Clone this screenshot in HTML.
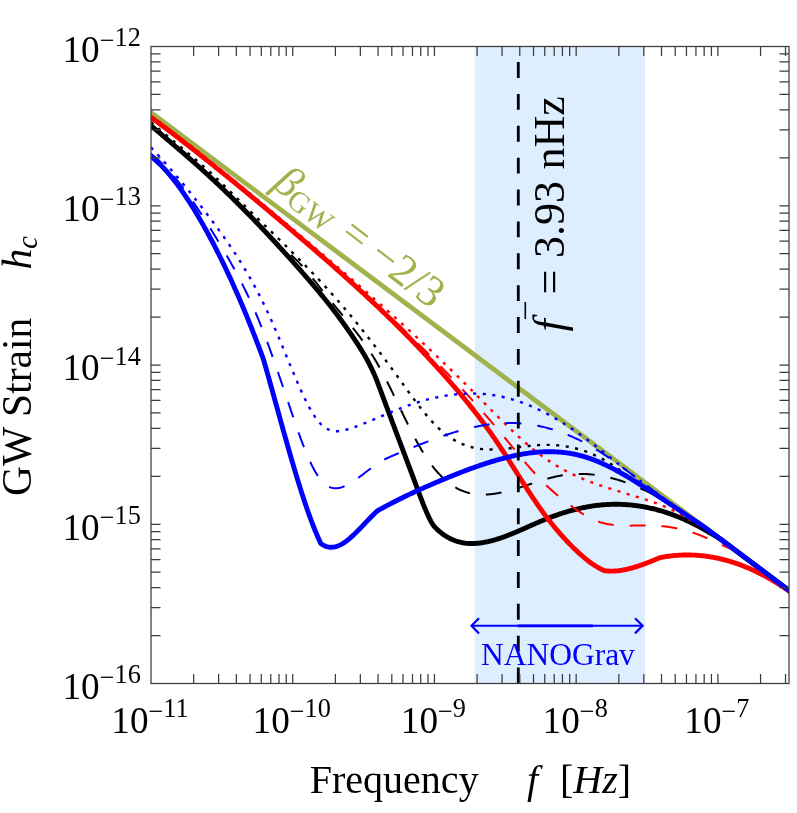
<!DOCTYPE html>
<html><head><meta charset="utf-8"><title>GW strain</title>
<style>html,body{margin:0;padding:0;background:#fff;width:797px;height:813px;overflow:hidden}</style></head>
<body>
<svg width="797" height="813" viewBox="0 0 797 813" style="display:block;position:absolute;left:0;top:0">
<rect width="797" height="813" fill="#fff"/>
<defs><clipPath id="cp"><rect x="151.0" y="46.5" width="638.0" height="637.0"/></clipPath></defs>
<rect x="474.7" y="46.5" width="170.50000000000006" height="637.0" fill="#ddeeff"/>
<g clip-path="url(#cp)" fill="none" stroke-linejoin="round">
<path d="M148.0,110.22 L792.0,592.65" stroke="#a0b24b" stroke-width="4.8"/>
<path d="M151.00,125.60 L152.00,126.45 L153.00,127.30 L154.00,128.15 L155.00,129.00 L156.00,129.84 L157.00,130.69 L158.00,131.54 L159.00,132.39 L160.00,133.23 L161.00,134.08 L162.00,134.93 L163.00,135.78 L164.00,136.63 L165.00,137.47 L166.00,138.32 L167.00,139.17 L168.00,140.02 L169.00,140.87 L170.00,141.72 L171.00,142.57 L172.00,143.43 L173.00,144.28 L174.00,145.13 L175.00,145.99 L176.00,146.84 L177.00,147.70 L178.00,148.56 L179.00,149.41 L180.00,150.27 L181.00,151.13 L182.00,152.00 L183.00,152.86 L184.00,153.72 L185.00,154.59 L186.00,155.46 L187.00,156.33 L188.00,157.20 L189.00,158.07 L190.00,158.94 L191.00,159.82 L192.00,160.70 L193.00,161.58 L194.00,162.46 L195.00,163.34 L196.00,164.23 L197.00,165.11 L198.00,166.00 L199.00,166.89 L200.00,167.79 L201.00,168.68 L202.00,169.58 L203.00,170.48 L204.00,171.39 L205.00,172.29 L206.00,173.20 L207.00,174.11 L208.00,175.03 L209.00,175.94 L210.00,176.86 L211.00,177.78 L212.00,178.71 L213.00,179.64 L214.00,180.57 L215.00,181.50 L216.00,182.44 L217.00,183.37 L218.00,184.32 L219.00,185.26 L220.00,186.21 L221.00,187.15 L222.00,188.11 L223.00,189.06 L224.00,190.02 L225.00,190.98 L226.00,191.94 L227.00,192.90 L228.00,193.87 L229.00,194.84 L230.00,195.81 L231.00,196.79 L232.00,197.77 L233.00,198.75 L234.00,199.73 L235.00,200.72 L236.00,201.70 L237.00,202.69 L238.00,203.69 L239.00,204.68 L240.00,205.68 L241.00,206.68 L242.00,207.68 L243.00,208.69 L244.00,209.70 L245.00,210.71 L246.00,211.72 L247.00,212.74 L248.00,213.75 L249.00,214.77 L250.00,215.80 L251.00,216.82 L252.00,217.85 L253.00,218.88 L254.00,219.91 L255.00,220.95 L256.00,221.98 L257.00,223.02 L258.00,224.06 L259.00,225.11 L260.00,226.15 L261.00,227.20 L262.00,228.25 L263.00,229.31 L264.00,230.36 L265.00,231.42 L266.00,232.48 L267.00,233.54 L268.00,234.61 L269.00,235.68 L270.00,236.75 L271.00,237.82 L272.00,238.89 L273.00,239.97 L274.00,241.05 L275.00,242.13 L276.00,243.21 L277.00,244.29 L278.00,245.38 L279.00,246.47 L280.00,247.56 L281.00,248.65 L282.00,249.75 L283.00,250.85 L284.00,251.95 L285.00,253.05 L286.00,254.15 L287.00,255.26 L288.00,256.37 L289.00,257.48 L290.00,258.59 L291.00,259.71 L292.00,260.82 L293.00,261.94 L294.00,263.06 L295.00,264.19 L296.00,265.31 L297.00,266.44 L298.00,267.57 L299.00,268.70 L300.00,269.83 L301.00,270.97 L302.00,272.11 L303.00,273.25 L304.00,274.39 L305.00,275.53 L306.00,276.68 L307.00,277.83 L308.00,278.99 L309.00,280.14 L310.00,281.30 L311.00,282.47 L312.00,283.64 L313.00,284.81 L314.00,285.99 L315.00,287.17 L316.00,288.36 L317.00,289.55 L318.00,290.74 L319.00,291.94 L320.00,293.15 L321.00,294.36 L322.00,295.58 L323.00,296.80 L324.00,298.03 L325.00,299.27 L326.00,300.51 L327.00,301.76 L328.00,303.01 L329.00,304.28 L330.00,305.55 L331.00,306.82 L332.00,308.11 L333.00,309.40 L334.00,310.70 L335.00,312.00 L336.00,313.32 L337.00,314.64 L338.00,315.98 L339.00,317.32 L340.00,318.67 L341.00,320.02 L342.00,321.39 L343.00,322.77 L344.00,324.16 L345.00,325.55 L346.00,326.96 L347.00,328.37 L348.00,329.80 L349.00,331.24 L350.00,332.68 L351.00,334.14 L352.00,335.61 L353.00,337.09 L354.00,338.58 L355.00,340.08 L356.00,341.60 L357.00,343.13 L358.00,344.66 L359.00,346.22 L360.00,347.80 L361.00,349.39 L362.00,351.02 L363.00,352.67 L364.00,354.36 L365.00,356.09 L366.00,357.85 L367.00,359.66 L368.00,361.52 L369.00,363.42 L370.00,365.38 L371.00,367.40 L372.00,369.48 L373.00,371.62 L374.00,373.83 L375.00,376.11 L376.00,378.46 L376.80,380.40 L377.80,383.11 L378.80,385.81 L379.80,388.51 L380.80,391.20 L381.80,393.89 L382.80,396.58 L383.80,399.26 L384.80,401.94 L385.80,404.62 L386.80,407.29 L387.80,409.96 L388.80,412.63 L389.80,415.30 L390.80,417.97 L391.80,420.63 L392.80,423.29 L393.80,425.96 L394.80,428.62 L395.80,431.27 L396.80,433.93 L397.80,436.59 L398.80,439.25 L399.80,441.90 L400.80,444.56 L401.80,447.21 L402.80,449.87 L403.80,452.53 L404.80,455.18 L405.80,457.84 L406.80,460.50 L407.80,463.16 L408.80,465.82 L409.80,468.48 L410.80,471.14 L411.80,473.81 L412.80,476.47 L413.80,479.14 L414.80,481.81 L415.80,484.49 L416.80,487.16 L417.80,489.84 L418.80,492.52 L419.80,495.19 L420.80,497.83 L421.80,500.45 L422.80,503.03 L423.80,505.55 L424.80,508.02 L425.80,510.42 L426.80,512.75 L427.80,514.98 L428.80,517.12 L429.80,519.15 L430.80,521.07 L431.80,522.86 L432.80,524.51 L433.80,526.02 L434.00,526.30 L435.00,527.32 L436.00,528.30 L437.00,529.25 L438.00,530.16 L439.00,531.03 L440.00,531.87 L441.00,532.68 L442.00,533.45 L443.00,534.19 L444.00,534.89 L445.00,535.57 L446.00,536.21 L447.00,536.82 L448.00,537.40 L449.00,537.95 L450.00,538.47 L451.00,538.96 L452.00,539.43 L453.00,539.86 L454.00,540.27 L455.00,540.65 L456.00,541.01 L457.00,541.34 L458.00,541.64 L459.00,541.92 L460.00,542.17 L461.00,542.41 L462.00,542.61 L463.00,542.80 L464.00,542.96 L465.00,543.10 L466.00,543.23 L467.00,543.33 L468.00,543.41 L469.00,543.47 L470.00,543.51 L471.00,543.53 L472.00,543.54 L473.00,543.53 L474.00,543.50 L475.00,543.45 L476.00,543.39 L477.00,543.31 L478.00,543.22 L479.00,543.12 L480.00,543.00 L481.00,542.87 L482.00,542.72 L483.00,542.57 L484.00,542.40 L485.00,542.21 L486.00,542.02 L487.00,541.82 L488.00,541.60 L489.00,541.37 L490.00,541.13 L491.00,540.89 L492.00,540.63 L493.00,540.36 L494.00,540.08 L495.00,539.79 L496.00,539.50 L497.00,539.19 L498.00,538.88 L499.00,538.55 L500.00,538.22 L501.00,537.89 L502.00,537.54 L503.00,537.19 L504.00,536.83 L505.00,536.46 L506.00,536.09 L507.00,535.71 L508.00,535.33 L509.00,534.94 L510.00,534.54 L511.00,534.14 L512.00,533.74 L513.00,533.33 L514.00,532.91 L515.00,532.50 L516.00,532.07 L517.00,531.65 L518.00,531.22 L519.00,530.79 L520.00,530.36 L521.00,529.92 L522.00,529.49 L523.00,529.05 L524.00,528.61 L525.00,528.17 L526.00,527.72 L527.00,527.28 L528.00,526.84 L529.00,526.39 L530.00,525.95 L531.00,525.51 L532.00,525.06 L533.00,524.62 L534.00,524.18 L535.00,523.74 L536.00,523.31 L537.00,522.87 L538.00,522.44 L539.00,522.01 L540.00,521.58 L541.00,521.16 L542.00,520.74 L543.00,520.32 L544.00,519.91 L545.00,519.50 L546.00,519.09 L547.00,518.70 L548.00,518.30 L549.00,517.91 L550.00,517.53 L551.00,517.14 L552.00,516.77 L553.00,516.40 L554.00,516.03 L555.00,515.67 L556.00,515.32 L557.00,514.97 L558.00,514.62 L559.00,514.28 L560.00,513.94 L561.00,513.61 L562.00,513.29 L563.00,512.97 L564.00,512.65 L565.00,512.34 L566.00,512.04 L567.00,511.74 L568.00,511.44 L569.00,511.16 L570.00,510.87 L571.00,510.60 L572.00,510.32 L573.00,510.06 L574.00,509.80 L575.00,509.54 L576.00,509.29 L577.00,509.05 L578.00,508.81 L579.00,508.58 L580.00,508.35 L581.00,508.13 L582.00,507.92 L583.00,507.71 L584.00,507.50 L585.00,507.31 L586.00,507.11 L587.00,506.93 L588.00,506.75 L589.00,506.58 L590.00,506.41 L591.00,506.25 L592.00,506.09 L593.00,505.94 L594.00,505.80 L595.00,505.67 L596.00,505.54 L597.00,505.41 L598.00,505.30 L599.00,505.19 L600.00,505.08 L601.00,504.98 L602.00,504.89 L603.00,504.81 L604.00,504.73 L605.00,504.66 L606.00,504.59 L607.00,504.53 L608.00,504.48 L609.00,504.43 L610.00,504.39 L611.00,504.36 L612.00,504.33 L613.00,504.31 L614.00,504.29 L615.00,504.29 L616.00,504.28 L617.00,504.29 L618.00,504.30 L619.00,504.32 L620.00,504.34 L621.00,504.37 L622.00,504.41 L623.00,504.45 L624.00,504.50 L625.00,504.56 L626.00,504.62 L627.00,504.69 L628.00,504.76 L629.00,504.85 L630.00,504.93 L631.00,505.03 L632.00,505.13 L633.00,505.24 L634.00,505.35 L635.00,505.47 L636.00,505.60 L637.00,505.73 L638.00,505.87 L639.00,506.02 L640.00,506.17 L641.00,506.33 L642.00,506.50 L643.00,506.67 L644.00,506.85 L645.00,507.03 L646.00,507.22 L647.00,507.42 L648.00,507.62 L649.00,507.84 L650.00,508.05 L651.00,508.28 L652.00,508.51 L653.00,508.74 L654.00,508.99 L655.00,509.24 L656.00,509.49 L657.00,509.76 L658.00,510.02 L659.00,510.30 L660.00,510.58 L661.00,510.87 L662.00,511.17 L663.00,511.47 L664.00,511.78 L665.00,512.09 L666.00,512.41 L667.00,512.74 L668.00,513.07 L669.00,513.41 L670.00,513.76 L671.00,514.11 L672.00,514.47 L673.00,514.84 L674.00,515.21 L675.00,515.59 L676.00,515.98 L677.00,516.37 L678.00,516.77 L679.00,517.17 L680.00,517.59 L681.00,518.00 L682.00,518.43 L683.00,518.86 L684.00,519.30 L685.00,519.74 L686.00,520.19 L687.00,520.65 L688.00,521.12 L689.00,521.59 L690.00,522.06 L691.00,522.55 L692.00,523.04 L693.00,523.53 L694.00,524.03 L695.00,524.54 L696.00,525.06 L697.00,525.58 L698.00,526.11 L699.00,526.64 L700.00,527.18 L701.00,527.73 L702.00,528.28 L703.00,528.84 L704.00,529.40 L705.00,529.97 L706.00,530.55 L707.00,531.13 L708.00,531.72 L709.00,532.30 L710.00,532.86 L711.00,533.42 L712.00,533.98 L713.00,534.55 L714.00,535.12 L715.00,535.71 L716.00,536.31 L717.00,536.93 L718.00,537.57 L719.00,538.22 L720.00,538.89 L721.00,539.58 L722.00,540.29 L723.00,541.00 L724.00,541.73 L725.00,542.47 L726.00,543.21 L727.00,543.96 L728.00,544.70 L729.00,545.45 L730.00,546.20 L731.00,546.95 L732.00,547.70 L733.00,548.45 L734.00,549.20 L735.00,549.95 L736.00,550.70 L737.00,551.45 L738.00,552.20 L739.00,552.94 L740.00,553.69 L741.00,554.44 L742.00,555.19 L743.00,555.94 L744.00,556.69 L745.00,557.44 L746.00,558.19 L747.00,558.94 L748.00,559.69 L749.00,560.44 L750.00,561.18 L751.00,561.93 L752.00,562.68 L753.00,563.43 L754.00,564.18 L755.00,564.93 L756.00,565.68 L757.00,566.43 L758.00,567.18 L759.00,567.93 L760.00,568.68 L761.00,569.43 L762.00,570.17 L763.00,570.92 L764.00,571.67 L765.00,572.42 L766.00,573.17 L767.00,573.92 L768.00,574.67 L769.00,575.42 L770.00,576.17 L771.00,576.92 L772.00,577.67 L773.00,578.41 L774.00,579.16 L775.00,579.91 L776.00,580.66 L777.00,581.41 L778.00,582.16 L779.00,582.91 L780.00,583.66 L781.00,584.41 L782.00,585.16 L783.00,585.91 L784.00,586.65 L785.00,587.40 L786.00,588.15 L787.00,588.90 L788.00,589.65 L789.00,590.40 L790.00,591.15 L791.00,591.90 L792.00,592.65" stroke="#000" stroke-width="4.9"/>
<path d="M151.00,125.04 L152.00,125.92 L153.00,126.79 L154.00,127.66 L155.00,128.52 L156.00,129.38 L157.00,130.24 L158.00,131.09 L159.00,131.94 L160.00,132.79 L161.00,133.64 L162.00,134.48 L163.00,135.33 L164.00,136.17 L165.00,137.00 L166.00,137.84 L167.00,138.68 L168.00,139.51 L169.00,140.34 L170.00,141.17 L171.00,142.01 L172.00,142.84 L173.00,143.67 L174.00,144.50 L175.00,145.32 L176.00,146.15 L177.00,146.98 L178.00,147.81 L179.00,148.64 L180.00,149.48 L181.00,150.31 L182.00,151.14 L183.00,151.98 L184.00,152.81 L185.00,153.65 L186.00,154.49 L187.00,155.33 L188.00,156.17 L189.00,157.02 L190.00,157.87 L191.00,158.72 L192.00,159.57 L193.00,160.43 L194.00,161.29 L195.00,162.15 L196.00,163.02 L197.00,163.89 L198.00,164.76 L199.00,165.64 L200.00,166.52 L201.00,167.41 L202.00,168.30 L203.00,169.19 L204.00,170.09 L205.00,171.00 L206.00,171.91 L207.00,172.83 L208.00,173.75 L209.00,174.67 L210.00,175.61 L211.00,176.54 L212.00,177.49 L213.00,178.43 L214.00,179.39 L215.00,180.34 L216.00,181.31 L217.00,182.27 L218.00,183.24 L219.00,184.22 L220.00,185.20 L221.00,186.18 L222.00,187.17 L223.00,188.16 L224.00,189.15 L225.00,190.14 L226.00,191.14 L227.00,192.15 L228.00,193.15 L229.00,194.16 L230.00,195.17 L231.00,196.18 L232.00,197.19 L233.00,198.20 L234.00,199.22 L235.00,200.24 L236.00,201.26 L237.00,202.28 L238.00,203.30 L239.00,204.32 L240.00,205.35 L241.00,206.37 L242.00,207.39 L243.00,208.42 L244.00,209.44 L245.00,210.47 L246.00,211.49 L247.00,212.52 L248.00,213.54 L249.00,214.56 L250.00,215.58 L251.00,216.60 L252.00,217.62 L253.00,218.64 L254.00,219.66 L255.00,220.67 L256.00,221.68 L257.00,222.69 L258.00,223.70 L259.00,224.71 L260.00,225.71 L261.00,226.71 L262.00,227.71 L263.00,228.71 L264.00,229.70 L265.00,230.69 L266.00,231.67 L267.00,232.65 L268.00,233.63 L269.00,234.60 L270.00,235.57 L271.00,236.54 L272.00,237.50 L273.00,238.46 L274.00,239.41 L275.00,240.35 L276.00,241.30 L277.00,242.23 L278.00,243.16 L279.00,244.09 L280.00,245.01 L281.00,245.92 L282.00,246.83 L283.00,247.73 L284.00,248.63 L285.00,249.52 L286.00,250.42 L287.00,251.31 L288.00,252.21 L289.00,253.10 L290.00,254.01 L291.00,254.92 L292.00,255.84 L293.00,256.76 L294.00,257.70 L295.00,258.65 L296.00,259.61 L297.00,260.59 L298.00,261.59 L299.00,262.60 L300.00,263.64 L301.00,264.70 L302.00,265.77 L303.00,266.88 L304.00,268.00 L305.00,269.14 L306.00,270.30 L307.00,271.47 L308.00,272.66 L309.00,273.87 L310.00,275.08 L311.00,276.30 L312.00,277.53 L313.00,278.76 L314.00,280.00 L315.00,281.25 L316.00,282.49 L317.00,283.74 L318.00,285.00 L319.00,286.25 L320.00,287.51 L321.00,288.77 L322.00,290.03 L323.00,291.29 L324.00,292.54 L325.00,293.80 L326.00,295.05 L327.00,296.31 L328.00,297.55 L329.00,298.80 L330.00,300.04 L331.00,301.27 L332.00,302.50 L333.00,303.73 L334.00,304.94 L335.00,306.16 L336.00,307.37 L337.00,308.57 L338.00,309.78 L339.00,310.98 L340.00,312.18 L341.00,313.38 L342.00,314.58 L343.00,315.79 L344.00,316.99 L345.00,318.20 L346.00,319.41 L347.00,320.63 L348.00,321.85 L349.00,323.08 L350.00,324.31 L351.00,325.56 L352.00,326.81 L353.00,328.07 L354.00,329.34 L355.00,330.62 L356.00,331.91 L357.00,333.21 L358.00,334.53 L359.00,335.86 L360.00,337.20 L361.00,338.56 L362.00,339.94 L363.00,341.33 L364.00,342.74 L365.00,344.17 L366.00,345.61 L367.00,347.08 L368.00,348.57 L369.00,350.08 L370.00,351.61 L371.00,353.16 L372.00,354.74 L373.00,356.34 L374.00,357.96 L375.00,359.61 L376.00,361.29 L377.00,363.00 L378.00,364.73 L379.00,366.49 L380.00,368.29 L381.00,370.11 L382.00,371.96 L383.00,373.83 L384.00,375.73 L385.00,377.65 L386.00,379.59 L387.00,381.55 L388.00,383.53 L389.00,385.53 L390.00,387.54 L391.00,389.56 L392.00,391.60 L393.00,393.64 L394.00,395.70 L395.00,397.76 L396.00,399.83 L397.00,401.91 L398.00,403.98 L399.00,406.06 L400.00,408.14 L401.00,410.21 L402.00,412.28 L403.00,414.35 L404.00,416.41 L405.00,418.46 L406.00,420.51 L407.00,422.54 L408.00,424.56 L409.00,426.57 L410.00,428.56 L411.00,430.53 L412.00,432.48 L413.00,434.42 L414.00,436.33 L415.00,438.22 L416.00,440.09 L417.00,441.92 L418.00,443.73 L419.00,445.52 L420.00,447.27 L421.00,448.99 L422.00,450.67 L423.00,452.32 L424.00,453.93 L425.00,455.51 L426.00,457.05 L427.00,458.55 L428.00,460.02 L429.00,461.45 L430.00,462.84 L431.00,464.21 L432.00,465.53 L433.00,466.83 L434.00,468.08 L435.00,469.31 L436.00,470.50 L437.00,471.66 L438.00,472.78 L439.00,473.87 L440.00,474.93 L441.00,475.96 L442.00,476.96 L443.00,477.92 L444.00,478.85 L445.00,479.76 L446.00,480.63 L447.00,481.47 L448.00,482.28 L449.00,483.06 L450.00,483.81 L451.00,484.53 L452.00,485.23 L453.00,485.89 L454.00,486.53 L455.00,487.14 L456.00,487.72 L457.00,488.27 L458.00,488.80 L459.00,489.30 L460.00,489.77 L461.00,490.22 L462.00,490.64 L463.00,491.04 L464.00,491.42 L465.00,491.77 L466.00,492.10 L467.00,492.40 L468.00,492.68 L469.00,492.95 L470.00,493.19 L471.00,493.41 L472.00,493.61 L473.00,493.79 L474.00,493.95 L475.00,494.09 L476.00,494.21 L477.00,494.32 L478.00,494.41 L479.00,494.48 L480.00,494.53 L481.00,494.57 L482.00,494.60 L483.00,494.60 L484.00,494.60 L485.00,494.58 L486.00,494.54 L487.00,494.50 L488.00,494.44 L489.00,494.36 L490.00,494.28 L491.00,494.18 L492.00,494.07 L493.00,493.95 L494.00,493.82 L495.00,493.67 L496.00,493.52 L497.00,493.36 L498.00,493.18 L499.00,493.00 L500.00,492.81 L501.00,492.61 L502.00,492.39 L503.00,492.18 L504.00,491.95 L505.00,491.71 L506.00,491.47 L507.00,491.22 L508.00,490.97 L509.00,490.70 L510.00,490.43 L511.00,490.16 L512.00,489.88 L513.00,489.59 L514.00,489.30 L515.00,489.00 L516.00,488.70 L517.00,488.40 L518.00,488.09 L519.00,487.78 L520.00,487.46 L521.00,487.15 L522.00,486.83 L523.00,486.50 L524.00,486.18 L525.00,485.85 L526.00,485.52 L527.00,485.19 L528.00,484.86 L529.00,484.53 L530.00,484.20 L531.00,483.87 L532.00,483.54 L533.00,483.21 L534.00,482.89 L535.00,482.56 L536.00,482.23 L537.00,481.91 L538.00,481.59 L539.00,481.27 L540.00,480.96 L541.00,480.64 L542.00,480.34 L543.00,480.03 L544.00,479.73 L545.00,479.44 L546.00,479.14 L547.00,478.86 L548.00,478.58 L549.00,478.30 L550.00,478.03 L551.00,477.77 L552.00,477.51 L553.00,477.26 L554.00,477.02 L555.00,476.79 L556.00,476.56 L557.00,476.34 L558.00,476.13 L559.00,475.93 L560.00,475.73 L561.00,475.55 L562.00,475.38 L563.00,475.21 L564.00,475.06 L565.00,474.91 L566.00,474.78 L567.00,474.66 L568.00,474.54 L569.00,474.43 L570.00,474.34 L571.00,474.25 L572.00,474.17 L573.00,474.11 L574.00,474.05 L575.00,474.00 L576.00,473.96 L577.00,473.93 L578.00,473.90 L579.00,473.89 L580.00,473.89 L581.00,473.89 L582.00,473.91 L583.00,473.93 L584.00,473.96 L585.00,474.00 L586.00,474.05 L587.00,474.11 L588.00,474.17 L589.00,474.25 L590.00,474.33 L591.00,474.42 L592.00,474.52 L593.00,474.63 L594.00,474.75 L595.00,474.87 L596.00,475.00 L597.00,475.14 L598.00,475.29 L599.00,475.45 L600.00,475.61 L601.00,475.79 L602.00,475.97 L603.00,476.16 L604.00,476.35 L605.00,476.56 L606.00,476.77 L607.00,476.99 L608.00,477.21 L609.00,477.45 L610.00,477.69 L611.00,477.94 L612.00,478.20 L613.00,478.46 L614.00,478.73 L615.00,479.01 L616.00,479.29 L617.00,479.59 L618.00,479.89 L619.00,480.19 L620.00,480.50 L621.00,480.82 L622.00,481.15 L623.00,481.49 L624.00,481.83 L625.00,482.17 L626.00,482.53 L627.00,482.89 L628.00,483.25 L629.00,483.63 L630.00,484.01 L631.00,484.39 L632.00,484.78 L633.00,485.18 L634.00,485.59 L635.00,486.00 L636.00,486.42 L637.00,486.84 L638.00,487.27 L639.00,487.70 L640.00,488.14 L641.00,488.59 L642.00,489.04 L643.00,489.50 L644.00,489.96 L645.00,490.43 L646.00,490.91 L647.00,491.39 L648.00,491.87 L649.00,492.37 L650.00,492.86 L651.00,493.36 L652.00,493.87 L653.00,494.38 L654.00,494.90 L655.00,495.43 L656.00,495.95 L657.00,496.49 L658.00,497.02 L659.00,497.57 L660.00,498.11 L661.00,498.67 L662.00,499.22 L663.00,499.79 L664.00,500.35 L665.00,500.92 L666.00,501.50 L667.00,502.08 L668.00,502.66 L669.00,503.25 L670.00,503.85 L671.00,504.44 L672.00,505.04 L673.00,505.63 L674.00,506.20 L675.00,506.76 L676.00,507.31 L677.00,507.86 L678.00,508.42 L679.00,508.98 L680.00,509.56 L681.00,510.15 L682.00,510.76 L683.00,511.39 L684.00,512.04 L685.00,512.70 L686.00,513.38 L687.00,514.08 L688.00,514.79 L689.00,515.51 L690.00,516.25 L691.00,516.99 L692.00,517.74 L693.00,518.49 L694.00,519.24 L695.00,519.98 L696.00,520.73 L697.00,521.48 L698.00,522.23 L699.00,522.98 L700.00,523.73 L701.00,524.48 L702.00,525.23 L703.00,525.98 L704.00,526.73 L705.00,527.48 L706.00,528.22 L707.00,528.97 L708.00,529.72 L709.00,530.47 L710.00,531.22 L711.00,531.97 L712.00,532.72 L713.00,533.47 L714.00,534.22 L715.00,534.97 L716.00,535.72 L717.00,536.46 L718.00,537.21 L719.00,537.96 L720.00,538.71 L721.00,539.46 L722.00,540.21 L723.00,540.96 L724.00,541.71 L725.00,542.46 L726.00,543.21 L727.00,543.96 L728.00,544.70 L729.00,545.45 L730.00,546.20 L731.00,546.95 L732.00,547.70 L733.00,548.45 L734.00,549.20 L735.00,549.95 L736.00,550.70 L737.00,551.45 L738.00,552.20 L739.00,552.94 L740.00,553.69 L741.00,554.44 L742.00,555.19 L743.00,555.94 L744.00,556.69 L745.00,557.44 L746.00,558.19 L747.00,558.94 L748.00,559.69 L749.00,560.44 L750.00,561.18 L751.00,561.93 L752.00,562.68 L753.00,563.43 L754.00,564.18 L755.00,564.93 L756.00,565.68 L757.00,566.43 L758.00,567.18 L759.00,567.93 L760.00,568.68 L761.00,569.43 L762.00,570.17 L763.00,570.92 L764.00,571.67 L765.00,572.42 L766.00,573.17 L767.00,573.92 L768.00,574.67 L769.00,575.42 L770.00,576.17 L771.00,576.92 L772.00,577.67 L773.00,578.41 L774.00,579.16 L775.00,579.91 L776.00,580.66 L777.00,581.41 L778.00,582.16 L779.00,582.91 L780.00,583.66 L781.00,584.41 L782.00,585.16 L783.00,585.91 L784.00,586.65 L785.00,587.40 L786.00,588.15 L787.00,588.90 L788.00,589.65 L789.00,590.40 L790.00,591.15 L791.00,591.90 L792.00,592.65" stroke="#000" stroke-width="2.0" stroke-dasharray="15.9 15.97" stroke-dashoffset="0"/>
<path d="M151.00,122.04 L152.00,122.92 L153.00,123.79 L154.00,124.66 L155.00,125.52 L156.00,126.38 L157.00,127.24 L158.00,128.09 L159.00,128.94 L160.00,129.79 L161.00,130.64 L162.00,131.48 L163.00,132.32 L164.00,133.16 L165.00,133.99 L166.00,134.83 L167.00,135.66 L168.00,136.49 L169.00,137.32 L170.00,138.15 L171.00,138.98 L172.00,139.80 L173.00,140.63 L174.00,141.46 L175.00,142.28 L176.00,143.11 L177.00,143.93 L178.00,144.76 L179.00,145.58 L180.00,146.41 L181.00,147.23 L182.00,148.06 L183.00,148.89 L184.00,149.72 L185.00,150.55 L186.00,151.38 L187.00,152.21 L188.00,153.05 L189.00,153.89 L190.00,154.73 L191.00,155.57 L192.00,156.41 L193.00,157.26 L194.00,158.11 L195.00,158.96 L196.00,159.82 L197.00,160.68 L198.00,161.54 L199.00,162.41 L200.00,163.28 L201.00,164.15 L202.00,165.03 L203.00,165.91 L204.00,166.80 L205.00,167.69 L206.00,168.58 L207.00,169.49 L208.00,170.39 L209.00,171.30 L210.00,172.22 L211.00,173.14 L212.00,174.07 L213.00,175.00 L214.00,175.93 L215.00,176.87 L216.00,177.82 L217.00,178.76 L218.00,179.71 L219.00,180.67 L220.00,181.63 L221.00,182.59 L222.00,183.55 L223.00,184.52 L224.00,185.49 L225.00,186.46 L226.00,187.43 L227.00,188.41 L228.00,189.39 L229.00,190.37 L230.00,191.35 L231.00,192.33 L232.00,193.31 L233.00,194.30 L234.00,195.28 L235.00,196.27 L236.00,197.26 L237.00,198.24 L238.00,199.23 L239.00,200.22 L240.00,201.21 L241.00,202.19 L242.00,203.18 L243.00,204.16 L244.00,205.15 L245.00,206.13 L246.00,207.11 L247.00,208.09 L248.00,209.07 L249.00,210.05 L250.00,211.03 L251.00,212.00 L252.00,212.98 L253.00,213.96 L254.00,214.93 L255.00,215.90 L256.00,216.88 L257.00,217.85 L258.00,218.82 L259.00,219.79 L260.00,220.77 L261.00,221.74 L262.00,222.71 L263.00,223.68 L264.00,224.65 L265.00,225.62 L266.00,226.59 L267.00,227.56 L268.00,228.54 L269.00,229.51 L270.00,230.48 L271.00,231.45 L272.00,232.42 L273.00,233.40 L274.00,234.37 L275.00,235.35 L276.00,236.32 L277.00,237.30 L278.00,238.28 L279.00,239.25 L280.00,240.23 L281.00,241.21 L282.00,242.19 L283.00,243.17 L284.00,244.16 L285.00,245.14 L286.00,246.13 L287.00,247.12 L288.00,248.10 L289.00,249.09 L290.00,250.09 L291.00,251.08 L292.00,252.07 L293.00,253.07 L294.00,254.07 L295.00,255.07 L296.00,256.07 L297.00,257.08 L298.00,258.09 L299.00,259.09 L300.00,260.11 L301.00,261.12 L302.00,262.13 L303.00,263.15 L304.00,264.17 L305.00,265.20 L306.00,266.22 L307.00,267.25 L308.00,268.28 L309.00,269.32 L310.00,270.35 L311.00,271.39 L312.00,272.43 L313.00,273.48 L314.00,274.53 L315.00,275.58 L316.00,276.64 L317.00,277.69 L318.00,278.76 L319.00,279.82 L320.00,280.89 L321.00,281.96 L322.00,283.04 L323.00,284.12 L324.00,285.20 L325.00,286.29 L326.00,287.38 L327.00,288.47 L328.00,289.57 L329.00,290.68 L330.00,291.78 L331.00,292.89 L332.00,294.01 L333.00,295.13 L334.00,296.25 L335.00,297.38 L336.00,298.51 L337.00,299.65 L338.00,300.79 L339.00,301.94 L340.00,303.09 L341.00,304.25 L342.00,305.41 L343.00,306.57 L344.00,307.74 L345.00,308.92 L346.00,310.10 L347.00,311.28 L348.00,312.47 L349.00,313.66 L350.00,314.86 L351.00,316.06 L352.00,317.27 L353.00,318.48 L354.00,319.69 L355.00,320.91 L356.00,322.14 L357.00,323.36 L358.00,324.60 L359.00,325.83 L360.00,327.07 L361.00,328.32 L362.00,329.57 L363.00,330.82 L364.00,332.08 L365.00,333.34 L366.00,334.61 L367.00,335.88 L368.00,337.15 L369.00,338.43 L370.00,339.71 L371.00,341.00 L372.00,342.29 L373.00,343.58 L374.00,344.88 L375.00,346.18 L376.00,347.49 L377.00,348.80 L378.00,350.11 L379.00,351.43 L380.00,352.75 L381.00,354.08 L382.00,355.41 L383.00,356.74 L384.00,358.08 L385.00,359.42 L386.00,360.76 L387.00,362.11 L388.00,363.46 L389.00,364.82 L390.00,366.18 L391.00,367.54 L392.00,368.91 L393.00,370.28 L394.00,371.65 L395.00,373.03 L396.00,374.41 L397.00,375.79 L398.00,377.18 L399.00,378.57 L400.00,379.96 L401.00,381.36 L402.00,382.75 L403.00,384.15 L404.00,385.54 L405.00,386.93 L406.00,388.32 L407.00,389.71 L408.00,391.10 L409.00,392.48 L410.00,393.85 L411.00,395.22 L412.00,396.58 L413.00,397.94 L414.00,399.29 L415.00,400.63 L416.00,401.96 L417.00,403.28 L418.00,404.60 L419.00,405.90 L420.00,407.19 L421.00,408.46 L422.00,409.73 L423.00,410.98 L424.00,412.22 L425.00,413.44 L426.00,414.64 L427.00,415.83 L428.00,417.00 L429.00,418.16 L430.00,419.29 L431.00,420.41 L432.00,421.50 L433.00,422.58 L434.00,423.64 L435.00,424.67 L436.00,425.68 L437.00,426.67 L438.00,427.63 L439.00,428.57 L440.00,429.48 L441.00,430.37 L442.00,431.24 L443.00,432.08 L444.00,432.90 L445.00,433.70 L446.00,434.47 L447.00,435.22 L448.00,435.95 L449.00,436.66 L450.00,437.34 L451.00,438.01 L452.00,438.65 L453.00,439.27 L454.00,439.86 L455.00,440.44 L456.00,441.00 L457.00,441.53 L458.00,442.05 L459.00,442.54 L460.00,443.02 L461.00,443.47 L462.00,443.91 L463.00,444.33 L464.00,444.73 L465.00,445.11 L466.00,445.47 L467.00,445.82 L468.00,446.14 L469.00,446.45 L470.00,446.75 L471.00,447.03 L472.00,447.29 L473.00,447.53 L474.00,447.76 L475.00,447.98 L476.00,448.17 L477.00,448.36 L478.00,448.53 L479.00,448.68 L480.00,448.83 L481.00,448.95 L482.00,449.07 L483.00,449.17 L484.00,449.26 L485.00,449.34 L486.00,449.40 L487.00,449.45 L488.00,449.50 L489.00,449.53 L490.00,449.55 L491.00,449.56 L492.00,449.56 L493.00,449.55 L494.00,449.53 L495.00,449.51 L496.00,449.47 L497.00,449.43 L498.00,449.38 L499.00,449.32 L500.00,449.26 L501.00,449.19 L502.00,449.11 L503.00,449.03 L504.00,448.94 L505.00,448.84 L506.00,448.74 L507.00,448.64 L508.00,448.53 L509.00,448.42 L510.00,448.31 L511.00,448.19 L512.00,448.07 L513.00,447.95 L514.00,447.82 L515.00,447.69 L516.00,447.57 L517.00,447.44 L518.00,447.31 L519.00,447.18 L520.00,447.05 L521.00,446.92 L522.00,446.79 L523.00,446.67 L524.00,446.54 L525.00,446.42 L526.00,446.30 L527.00,446.18 L528.00,446.06 L529.00,445.95 L530.00,445.84 L531.00,445.74 L532.00,445.64 L533.00,445.54 L534.00,445.45 L535.00,445.36 L536.00,445.29 L537.00,445.21 L538.00,445.15 L539.00,445.09 L540.00,445.03 L541.00,444.99 L542.00,444.95 L543.00,444.92 L544.00,444.89 L545.00,444.88 L546.00,444.87 L547.00,444.87 L548.00,444.87 L549.00,444.89 L550.00,444.91 L551.00,444.94 L552.00,444.98 L553.00,445.02 L554.00,445.08 L555.00,445.14 L556.00,445.21 L557.00,445.29 L558.00,445.38 L559.00,445.47 L560.00,445.58 L561.00,445.69 L562.00,445.81 L563.00,445.94 L564.00,446.08 L565.00,446.23 L566.00,446.39 L567.00,446.56 L568.00,446.74 L569.00,446.92 L570.00,447.12 L571.00,447.32 L572.00,447.54 L573.00,447.76 L574.00,448.00 L575.00,448.24 L576.00,448.49 L577.00,448.76 L578.00,449.03 L579.00,449.32 L580.00,449.61 L581.00,449.91 L582.00,450.23 L583.00,450.56 L584.00,450.89 L585.00,451.24 L586.00,451.60 L587.00,451.96 L588.00,452.34 L589.00,452.73 L590.00,453.13 L591.00,453.55 L592.00,453.97 L593.00,454.40 L594.00,454.85 L595.00,455.30 L596.00,455.77 L597.00,456.25 L598.00,456.73 L599.00,457.23 L600.00,457.74 L601.00,458.27 L602.00,458.80 L603.00,459.34 L604.00,459.90 L605.00,460.46 L606.00,461.04 L607.00,461.63 L608.00,462.23 L609.00,462.84 L610.00,463.46 L611.00,464.09 L612.00,464.74 L613.00,465.39 L614.00,466.06 L615.00,466.73 L616.00,467.41 L617.00,468.11 L618.00,468.80 L619.00,469.51 L620.00,470.22 L621.00,470.93 L622.00,471.65 L623.00,472.37 L624.00,473.09 L625.00,473.82 L626.00,474.55 L627.00,475.27 L628.00,476.00 L629.00,476.72 L630.00,477.44 L631.00,478.16 L632.00,478.88 L633.00,479.59 L634.00,480.30 L635.00,481.01 L636.00,481.71 L637.00,482.41 L638.00,483.11 L639.00,483.81 L640.00,484.50 L641.00,485.19 L642.00,485.88 L643.00,486.57 L644.00,487.25 L645.00,487.94 L646.00,488.61 L647.00,489.29 L648.00,489.97 L649.00,490.64 L650.00,491.31 L651.00,491.98 L652.00,492.65 L653.00,493.32 L654.00,493.98 L655.00,494.64 L656.00,495.30 L657.00,495.96 L658.00,496.62 L659.00,497.28 L660.00,497.93 L661.00,498.58 L662.00,499.23 L663.00,499.88 L664.00,500.53 L665.00,501.18 L666.00,501.83 L667.00,502.47 L668.00,503.12 L669.00,503.76 L670.00,504.41 L671.00,505.05 L672.00,505.69 L673.00,506.33 L674.00,506.97 L675.00,507.61 L676.00,508.25 L677.00,508.88 L678.00,509.52 L679.00,510.16 L680.00,510.80 L681.00,511.43 L682.00,512.07 L683.00,512.70 L684.00,513.34 L685.00,513.97 L686.00,514.61 L687.00,515.24 L688.00,515.88 L689.00,516.52 L690.00,517.15 L691.00,517.79 L692.00,518.42 L693.00,519.06 L694.00,519.68 L695.00,520.31 L696.00,520.95 L697.00,521.59 L698.00,522.25 L699.00,522.91 L700.00,523.60 L701.00,524.30 L702.00,525.02 L703.00,525.75 L704.00,526.51 L705.00,527.27 L706.00,528.04 L707.00,528.83 L708.00,529.61 L709.00,530.40 L710.00,531.19 L711.00,531.96 L712.00,532.72 L713.00,533.47 L714.00,534.22 L715.00,534.97 L716.00,535.72 L717.00,536.46 L718.00,537.21 L719.00,537.96 L720.00,538.71 L721.00,539.46 L722.00,540.21 L723.00,540.96 L724.00,541.71 L725.00,542.46 L726.00,543.21 L727.00,543.96 L728.00,544.70 L729.00,545.45 L730.00,546.20 L731.00,546.95 L732.00,547.70 L733.00,548.45 L734.00,549.20 L735.00,549.95 L736.00,550.70 L737.00,551.45 L738.00,552.20 L739.00,552.94 L740.00,553.69 L741.00,554.44 L742.00,555.19 L743.00,555.94 L744.00,556.69 L745.00,557.44 L746.00,558.19 L747.00,558.94 L748.00,559.69 L749.00,560.44 L750.00,561.18 L751.00,561.93 L752.00,562.68 L753.00,563.43 L754.00,564.18 L755.00,564.93 L756.00,565.68 L757.00,566.43 L758.00,567.18 L759.00,567.93 L760.00,568.68 L761.00,569.43 L762.00,570.17 L763.00,570.92 L764.00,571.67 L765.00,572.42 L766.00,573.17 L767.00,573.92 L768.00,574.67 L769.00,575.42 L770.00,576.17 L771.00,576.92 L772.00,577.67 L773.00,578.41 L774.00,579.16 L775.00,579.91 L776.00,580.66 L777.00,581.41 L778.00,582.16 L779.00,582.91 L780.00,583.66 L781.00,584.41 L782.00,585.16 L783.00,585.91 L784.00,586.65 L785.00,587.40 L786.00,588.15 L787.00,588.90 L788.00,589.65 L789.00,590.40 L790.00,591.15 L791.00,591.90 L792.00,592.65" stroke="#000" stroke-width="2.4" stroke-dasharray="3.1 6.46" stroke-dashoffset="0"/>
<path d="M151.00,117.26 L152.00,118.00 L153.00,118.74 L154.00,119.49 L155.00,120.23 L156.00,120.98 L157.00,121.72 L158.00,122.47 L159.00,123.22 L160.00,123.97 L161.00,124.72 L162.00,125.47 L163.00,126.23 L164.00,126.98 L165.00,127.74 L166.00,128.49 L167.00,129.25 L168.00,130.01 L169.00,130.77 L170.00,131.53 L171.00,132.29 L172.00,133.06 L173.00,133.82 L174.00,134.58 L175.00,135.35 L176.00,136.12 L177.00,136.88 L178.00,137.65 L179.00,138.42 L180.00,139.19 L181.00,139.96 L182.00,140.74 L183.00,141.51 L184.00,142.29 L185.00,143.06 L186.00,143.84 L187.00,144.61 L188.00,145.39 L189.00,146.17 L190.00,146.95 L191.00,147.73 L192.00,148.51 L193.00,149.30 L194.00,150.08 L195.00,150.87 L196.00,151.65 L197.00,152.44 L198.00,153.23 L199.00,154.01 L200.00,154.80 L201.00,155.59 L202.00,156.38 L203.00,157.18 L204.00,157.97 L205.00,158.76 L206.00,159.56 L207.00,160.35 L208.00,161.15 L209.00,161.94 L210.00,162.74 L211.00,163.54 L212.00,164.34 L213.00,165.14 L214.00,165.94 L215.00,166.74 L216.00,167.55 L217.00,168.35 L218.00,169.15 L219.00,169.96 L220.00,170.76 L221.00,171.57 L222.00,172.38 L223.00,173.19 L224.00,174.00 L225.00,174.81 L226.00,175.62 L227.00,176.43 L228.00,177.24 L229.00,178.05 L230.00,178.87 L231.00,179.68 L232.00,180.50 L233.00,181.31 L234.00,182.13 L235.00,182.95 L236.00,183.76 L237.00,184.58 L238.00,185.40 L239.00,186.22 L240.00,187.04 L241.00,187.86 L242.00,188.69 L243.00,189.51 L244.00,190.33 L245.00,191.16 L246.00,191.98 L247.00,192.81 L248.00,193.64 L249.00,194.46 L250.00,195.29 L251.00,196.12 L252.00,196.95 L253.00,197.78 L254.00,198.61 L255.00,199.44 L256.00,200.27 L257.00,201.10 L258.00,201.94 L259.00,202.77 L260.00,203.60 L261.00,204.44 L262.00,205.27 L263.00,206.11 L264.00,206.95 L265.00,207.78 L266.00,208.62 L267.00,209.46 L268.00,210.30 L269.00,211.14 L270.00,211.98 L271.00,212.82 L272.00,213.66 L273.00,214.50 L274.00,215.35 L275.00,216.19 L276.00,217.03 L277.00,217.88 L278.00,218.72 L279.00,219.57 L280.00,220.41 L281.00,221.26 L282.00,222.10 L283.00,222.95 L284.00,223.80 L285.00,224.65 L286.00,225.50 L287.00,226.35 L288.00,227.20 L289.00,228.05 L290.00,228.90 L291.00,229.75 L292.00,230.60 L293.00,231.45 L294.00,232.31 L295.00,233.16 L296.00,234.01 L297.00,234.87 L298.00,235.72 L299.00,236.58 L300.00,237.43 L301.00,238.29 L302.00,239.14 L303.00,240.00 L304.00,240.86 L305.00,241.72 L306.00,242.58 L307.00,243.43 L308.00,244.29 L309.00,245.15 L310.00,246.01 L311.00,246.88 L312.00,247.74 L313.00,248.60 L314.00,249.46 L315.00,250.33 L316.00,251.19 L317.00,252.06 L318.00,252.93 L319.00,253.79 L320.00,254.66 L321.00,255.53 L322.00,256.40 L323.00,257.27 L324.00,258.14 L325.00,259.02 L326.00,259.89 L327.00,260.76 L328.00,261.64 L329.00,262.51 L330.00,263.39 L331.00,264.27 L332.00,265.15 L333.00,266.03 L334.00,266.91 L335.00,267.79 L336.00,268.68 L337.00,269.56 L338.00,270.45 L339.00,271.34 L340.00,272.23 L341.00,273.12 L342.00,274.01 L343.00,274.90 L344.00,275.79 L345.00,276.69 L346.00,277.58 L347.00,278.48 L348.00,279.38 L349.00,280.28 L350.00,281.18 L351.00,282.09 L352.00,282.99 L353.00,283.90 L354.00,284.80 L355.00,285.71 L356.00,286.62 L357.00,287.54 L358.00,288.45 L359.00,289.37 L360.00,290.28 L361.00,291.20 L362.00,292.12 L363.00,293.04 L364.00,293.97 L365.00,294.89 L366.00,295.82 L367.00,296.75 L368.00,297.68 L369.00,298.61 L370.00,299.55 L371.00,300.48 L372.00,301.42 L373.00,302.36 L374.00,303.30 L375.00,304.24 L376.00,305.19 L377.00,306.14 L378.00,307.09 L379.00,308.04 L380.00,308.99 L381.00,309.95 L382.00,310.90 L383.00,311.86 L384.00,312.82 L385.00,313.79 L386.00,314.75 L387.00,315.72 L388.00,316.69 L389.00,317.66 L390.00,318.64 L391.00,319.61 L392.00,320.59 L393.00,321.57 L394.00,322.56 L395.00,323.54 L396.00,324.53 L397.00,325.52 L398.00,326.51 L399.00,327.51 L400.00,328.51 L401.00,329.51 L402.00,330.51 L403.00,331.51 L404.00,332.52 L405.00,333.53 L406.00,334.54 L407.00,335.56 L408.00,336.57 L409.00,337.59 L410.00,338.62 L411.00,339.64 L412.00,340.67 L413.00,341.70 L414.00,342.73 L415.00,343.77 L416.00,344.81 L417.00,345.85 L418.00,346.89 L419.00,347.94 L420.00,348.99 L421.00,350.04 L422.00,351.09 L423.00,352.15 L424.00,353.21 L425.00,354.28 L426.00,355.34 L427.00,356.41 L428.00,357.48 L429.00,358.56 L430.00,359.64 L431.00,360.72 L432.00,361.80 L433.00,362.89 L434.00,363.98 L435.00,365.08 L436.00,366.17 L437.00,367.27 L438.00,368.38 L439.00,369.48 L440.00,370.59 L441.00,371.70 L442.00,372.82 L443.00,373.94 L444.00,375.06 L445.00,376.19 L446.00,377.32 L447.00,378.45 L448.00,379.58 L449.00,380.72 L450.00,381.86 L451.00,383.01 L452.00,384.16 L453.00,385.31 L454.00,386.47 L455.00,387.63 L456.00,388.79 L457.00,389.96 L458.00,391.14 L459.00,392.32 L460.00,393.50 L461.00,394.69 L462.00,395.88 L463.00,397.08 L464.00,398.28 L465.00,399.49 L466.00,400.71 L467.00,401.93 L468.00,403.16 L469.00,404.39 L470.00,405.63 L471.00,406.88 L472.00,408.13 L473.00,409.39 L474.00,410.66 L475.00,411.93 L476.00,413.21 L477.00,414.50 L478.00,415.80 L479.00,417.10 L480.00,418.42 L481.00,419.74 L482.00,421.07 L483.00,422.40 L484.00,423.75 L485.00,425.11 L486.00,426.47 L487.00,427.84 L488.00,429.22 L489.00,430.62 L490.00,432.02 L491.00,433.43 L492.00,434.85 L493.00,436.28 L494.00,437.72 L495.00,439.17 L496.00,440.64 L497.00,442.11 L498.00,443.59 L499.00,445.09 L500.00,446.59 L501.00,448.10 L502.00,449.63 L503.00,451.16 L504.00,452.70 L505.00,454.24 L506.00,455.79 L507.00,457.35 L508.00,458.92 L509.00,460.48 L510.00,462.06 L511.00,463.63 L512.00,465.21 L513.00,466.79 L514.00,468.38 L515.00,469.96 L516.00,471.54 L517.00,473.13 L518.00,474.71 L519.00,476.29 L520.00,477.87 L521.00,479.45 L522.00,481.03 L523.00,482.60 L524.00,484.17 L525.00,485.73 L526.00,487.28 L527.00,488.83 L528.00,490.38 L529.00,491.91 L530.00,493.44 L531.00,494.96 L532.00,496.47 L533.00,497.98 L534.00,499.47 L535.00,500.95 L536.00,502.42 L537.00,503.87 L538.00,505.32 L539.00,506.75 L540.00,508.16 L541.00,509.57 L542.00,510.95 L543.00,512.33 L544.00,513.69 L545.00,515.03 L546.00,516.36 L547.00,517.68 L548.00,518.98 L549.00,520.27 L550.00,521.54 L551.00,522.81 L552.00,524.05 L553.00,525.29 L554.00,526.51 L555.00,527.72 L556.00,528.92 L557.00,530.10 L558.00,531.27 L559.00,532.43 L560.00,533.57 L561.00,534.71 L562.00,535.83 L563.00,536.94 L564.00,538.03 L565.00,539.12 L566.00,540.19 L567.00,541.26 L568.00,542.31 L569.00,543.35 L570.00,544.38 L571.00,545.39 L572.00,546.40 L573.00,547.40 L574.00,548.38 L575.00,549.35 L576.00,550.31 L577.00,551.26 L578.00,552.19 L579.00,553.11 L580.00,554.01 L581.00,554.90 L582.00,555.78 L583.00,556.64 L584.00,557.48 L585.00,558.31 L586.00,559.12 L587.00,559.92 L588.00,560.70 L589.00,561.46 L590.00,562.20 L591.00,562.93 L592.00,563.64 L593.00,564.32 L594.00,564.99 L595.00,565.64 L596.00,566.27 L597.00,566.88 L598.00,567.46 L599.00,568.03 L600.00,568.57 L601.00,569.09 L602.00,569.59 L603.00,570.07 L604.00,570.53 L604.40,570.70 L605.40,570.82 L606.40,570.92 L607.40,571.00 L608.40,571.06 L609.40,571.10 L610.40,571.13 L611.40,571.13 L612.40,571.12 L613.40,571.09 L614.40,571.05 L615.40,570.99 L616.40,570.91 L617.40,570.82 L618.40,570.71 L619.40,570.59 L620.40,570.45 L621.40,570.30 L622.40,570.14 L623.40,569.96 L624.40,569.77 L625.40,569.57 L626.40,569.35 L627.40,569.13 L628.40,568.89 L629.40,568.64 L630.40,568.38 L631.40,568.11 L632.40,567.83 L633.40,567.54 L634.40,567.24 L635.40,566.94 L636.40,566.62 L637.40,566.30 L638.40,565.97 L639.40,565.63 L640.40,565.29 L641.40,564.93 L642.40,564.58 L643.40,564.21 L644.40,563.85 L645.40,563.47 L646.40,563.10 L647.40,562.71 L648.40,562.33 L649.40,561.94 L650.40,561.55 L651.40,561.15 L652.40,560.75 L653.40,560.36 L654.40,559.95 L655.40,559.55 L656.40,559.15 L657.40,558.75 L658.40,558.34 L659.40,557.94 L660.40,557.54 L660.50,557.50 L661.50,557.32 L662.50,557.14 L663.50,556.97 L664.50,556.80 L665.50,556.65 L666.50,556.50 L667.50,556.35 L668.50,556.22 L669.50,556.09 L670.50,555.97 L671.50,555.85 L672.50,555.75 L673.50,555.65 L674.50,555.55 L675.50,555.47 L676.50,555.39 L677.50,555.32 L678.50,555.25 L679.50,555.19 L680.50,555.14 L681.50,555.10 L682.50,555.06 L683.50,555.03 L684.50,555.01 L685.50,554.99 L686.50,554.99 L687.50,554.98 L688.50,554.99 L689.50,555.00 L690.50,555.02 L691.50,555.05 L692.50,555.08 L693.50,555.12 L694.50,555.17 L695.50,555.22 L696.50,555.29 L697.50,555.36 L698.50,555.43 L699.50,555.51 L700.50,555.60 L701.50,555.70 L702.50,555.80 L703.50,555.91 L704.50,556.03 L705.50,556.16 L706.50,556.29 L707.50,556.43 L708.50,556.57 L709.50,556.73 L710.50,556.88 L711.50,557.05 L712.50,557.22 L713.50,557.41 L714.50,557.59 L715.50,557.79 L716.50,557.99 L717.50,558.20 L718.50,558.41 L719.50,558.64 L720.50,558.86 L721.50,559.10 L722.50,559.34 L723.50,559.59 L724.50,559.85 L725.50,560.12 L726.50,560.39 L727.50,560.67 L728.50,560.95 L729.50,561.24 L730.50,561.54 L731.50,561.85 L732.50,562.16 L733.50,562.48 L734.50,562.81 L735.50,563.14 L736.50,563.48 L737.50,563.83 L738.50,564.18 L739.50,564.54 L740.50,564.91 L741.50,565.29 L742.50,565.67 L743.50,566.06 L744.50,566.46 L745.50,566.86 L746.50,567.27 L747.50,567.69 L748.50,568.11 L749.50,568.54 L750.50,568.98 L751.50,569.42 L752.50,569.87 L753.50,570.33 L754.50,570.80 L755.50,571.27 L756.50,571.75 L757.50,572.23 L758.50,572.73 L759.50,573.22 L760.50,573.73 L761.50,574.24 L762.50,574.77 L763.50,575.29 L764.50,575.83 L765.50,576.37 L766.50,576.91 L767.50,577.47 L768.50,578.03 L769.50,578.60 L770.50,579.17 L771.50,579.76 L772.50,580.35 L773.50,580.94 L774.50,581.54 L775.50,582.15 L776.50,582.77 L777.50,583.39 L778.50,584.02 L779.50,584.66 L780.50,585.30 L781.50,585.96 L782.50,586.61 L783.50,587.28 L784.50,587.95 L785.50,588.63 L786.50,589.31 L787.50,590.00 L788.50,590.70 L789.50,591.41 L790.50,592.12 L791.50,592.84 L792.00,593.20" stroke="#f00" stroke-width="4.9"/>
<path d="M151.00,116.79 L152.00,117.53 L153.00,118.28 L154.00,119.03 L155.00,119.78 L156.00,120.54 L157.00,121.29 L158.00,122.04 L159.00,122.79 L160.00,123.55 L161.00,124.30 L162.00,125.06 L163.00,125.82 L164.00,126.57 L165.00,127.33 L166.00,128.09 L167.00,128.85 L168.00,129.61 L169.00,130.37 L170.00,131.14 L171.00,131.90 L172.00,132.66 L173.00,133.43 L174.00,134.19 L175.00,134.96 L176.00,135.72 L177.00,136.49 L178.00,137.26 L179.00,138.03 L180.00,138.80 L181.00,139.57 L182.00,140.34 L183.00,141.11 L184.00,141.88 L185.00,142.66 L186.00,143.43 L187.00,144.21 L188.00,144.98 L189.00,145.76 L190.00,146.53 L191.00,147.31 L192.00,148.09 L193.00,148.87 L194.00,149.65 L195.00,150.43 L196.00,151.21 L197.00,151.99 L198.00,152.78 L199.00,153.56 L200.00,154.34 L201.00,155.13 L202.00,155.92 L203.00,156.70 L204.00,157.49 L205.00,158.28 L206.00,159.07 L207.00,159.85 L208.00,160.64 L209.00,161.44 L210.00,162.23 L211.00,163.02 L212.00,163.81 L213.00,164.61 L214.00,165.40 L215.00,166.19 L216.00,166.99 L217.00,167.79 L218.00,168.58 L219.00,169.38 L220.00,170.18 L221.00,170.98 L222.00,171.78 L223.00,172.58 L224.00,173.38 L225.00,174.18 L226.00,174.99 L227.00,175.79 L228.00,176.59 L229.00,177.40 L230.00,178.20 L231.00,179.01 L232.00,179.82 L233.00,180.63 L234.00,181.43 L235.00,182.24 L236.00,183.05 L237.00,183.86 L238.00,184.67 L239.00,185.49 L240.00,186.30 L241.00,187.11 L242.00,187.93 L243.00,188.74 L244.00,189.56 L245.00,190.37 L246.00,191.19 L247.00,192.00 L248.00,192.82 L249.00,193.64 L250.00,194.46 L251.00,195.28 L252.00,196.10 L253.00,196.92 L254.00,197.74 L255.00,198.57 L256.00,199.39 L257.00,200.21 L258.00,201.04 L259.00,201.86 L260.00,202.69 L261.00,203.52 L262.00,204.34 L263.00,205.17 L264.00,206.00 L265.00,206.83 L266.00,207.66 L267.00,208.49 L268.00,209.32 L269.00,210.15 L270.00,210.99 L271.00,211.82 L272.00,212.65 L273.00,213.49 L274.00,214.32 L275.00,215.16 L276.00,216.00 L277.00,216.83 L278.00,217.67 L279.00,218.51 L280.00,219.35 L281.00,220.19 L282.00,221.03 L283.00,221.87 L284.00,222.71 L285.00,223.55 L286.00,224.40 L287.00,225.24 L288.00,226.08 L289.00,226.93 L290.00,227.77 L291.00,228.62 L292.00,229.47 L293.00,230.32 L294.00,231.16 L295.00,232.01 L296.00,232.86 L297.00,233.71 L298.00,234.56 L299.00,235.41 L300.00,236.27 L301.00,237.12 L302.00,237.97 L303.00,238.82 L304.00,239.68 L305.00,240.53 L306.00,241.39 L307.00,242.25 L308.00,243.10 L309.00,243.96 L310.00,244.82 L311.00,245.68 L312.00,246.54 L313.00,247.40 L314.00,248.26 L315.00,249.12 L316.00,249.99 L317.00,250.85 L318.00,251.71 L319.00,252.58 L320.00,253.45 L321.00,254.31 L322.00,255.18 L323.00,256.05 L324.00,256.92 L325.00,257.79 L326.00,258.66 L327.00,259.53 L328.00,260.40 L329.00,261.28 L330.00,262.15 L331.00,263.03 L332.00,263.90 L333.00,264.78 L334.00,265.66 L335.00,266.54 L336.00,267.42 L337.00,268.30 L338.00,269.18 L339.00,270.06 L340.00,270.95 L341.00,271.83 L342.00,272.72 L343.00,273.60 L344.00,274.49 L345.00,275.38 L346.00,276.27 L347.00,277.16 L348.00,278.05 L349.00,278.94 L350.00,279.84 L351.00,280.73 L352.00,281.63 L353.00,282.53 L354.00,283.42 L355.00,284.32 L356.00,285.22 L357.00,286.13 L358.00,287.03 L359.00,287.93 L360.00,288.84 L361.00,289.74 L362.00,290.65 L363.00,291.56 L364.00,292.47 L365.00,293.38 L366.00,294.29 L367.00,295.20 L368.00,296.12 L369.00,297.03 L370.00,297.95 L371.00,298.87 L372.00,299.79 L373.00,300.71 L374.00,301.63 L375.00,302.55 L376.00,303.48 L377.00,304.40 L378.00,305.33 L379.00,306.26 L380.00,307.19 L381.00,308.12 L382.00,309.05 L383.00,309.98 L384.00,310.92 L385.00,311.85 L386.00,312.79 L387.00,313.73 L388.00,314.67 L389.00,315.61 L390.00,316.56 L391.00,317.50 L392.00,318.45 L393.00,319.39 L394.00,320.34 L395.00,321.29 L396.00,322.24 L397.00,323.20 L398.00,324.15 L399.00,325.11 L400.00,326.07 L401.00,327.03 L402.00,327.99 L403.00,328.95 L404.00,329.91 L405.00,330.88 L406.00,331.84 L407.00,332.81 L408.00,333.78 L409.00,334.75 L410.00,335.73 L411.00,336.70 L412.00,337.68 L413.00,338.65 L414.00,339.63 L415.00,340.62 L416.00,341.60 L417.00,342.58 L418.00,343.57 L419.00,344.56 L420.00,345.54 L421.00,346.54 L422.00,347.53 L423.00,348.52 L424.00,349.52 L425.00,350.52 L426.00,351.52 L427.00,352.52 L428.00,353.52 L429.00,354.53 L430.00,355.53 L431.00,356.54 L432.00,357.55 L433.00,358.57 L434.00,359.58 L435.00,360.60 L436.00,361.61 L437.00,362.64 L438.00,363.66 L439.00,364.68 L440.00,365.71 L441.00,366.74 L442.00,367.77 L443.00,368.80 L444.00,369.84 L445.00,370.88 L446.00,371.92 L447.00,372.96 L448.00,374.00 L449.00,375.05 L450.00,376.10 L451.00,377.15 L452.00,378.20 L453.00,379.26 L454.00,380.32 L455.00,381.38 L456.00,382.44 L457.00,383.51 L458.00,384.58 L459.00,385.65 L460.00,386.72 L461.00,387.80 L462.00,388.87 L463.00,389.95 L464.00,391.04 L465.00,392.12 L466.00,393.21 L467.00,394.30 L468.00,395.40 L469.00,396.50 L470.00,397.60 L471.00,398.70 L472.00,399.80 L473.00,400.91 L474.00,402.02 L475.00,403.14 L476.00,404.25 L477.00,405.37 L478.00,406.50 L479.00,407.62 L480.00,408.75 L481.00,409.88 L482.00,411.02 L483.00,412.15 L484.00,413.29 L485.00,414.44 L486.00,415.58 L487.00,416.73 L488.00,417.89 L489.00,419.04 L490.00,420.20 L491.00,421.37 L492.00,422.53 L493.00,423.70 L494.00,424.87 L495.00,426.05 L496.00,427.23 L497.00,428.41 L498.00,429.60 L499.00,430.78 L500.00,431.98 L501.00,433.17 L502.00,434.37 L503.00,435.57 L504.00,436.78 L505.00,437.99 L506.00,439.20 L507.00,440.42 L508.00,441.63 L509.00,442.85 L510.00,444.07 L511.00,445.29 L512.00,446.51 L513.00,447.73 L514.00,448.95 L515.00,450.16 L516.00,451.38 L517.00,452.59 L518.00,453.80 L519.00,455.01 L520.00,456.22 L521.00,457.42 L522.00,458.62 L523.00,459.81 L524.00,461.00 L525.00,462.18 L526.00,463.36 L527.00,464.53 L528.00,465.69 L529.00,466.85 L530.00,468.00 L531.00,469.14 L532.00,470.27 L533.00,471.40 L534.00,472.51 L535.00,473.62 L536.00,474.71 L537.00,475.80 L538.00,476.87 L539.00,477.94 L540.00,478.99 L541.00,480.03 L542.00,481.05 L543.00,482.07 L544.00,483.07 L545.00,484.05 L546.00,485.03 L547.00,485.98 L548.00,486.93 L549.00,487.86 L550.00,488.78 L551.00,489.69 L552.00,490.59 L553.00,491.47 L554.00,492.35 L555.00,493.21 L556.00,494.06 L557.00,494.91 L558.00,495.74 L559.00,496.56 L560.00,497.38 L561.00,498.19 L562.00,498.98 L563.00,499.77 L564.00,500.56 L565.00,501.33 L566.00,502.10 L567.00,502.86 L568.00,503.62 L569.00,504.37 L570.00,505.12 L571.00,505.86 L572.00,506.59 L573.00,507.31 L574.00,508.03 L575.00,508.74 L576.00,509.44 L577.00,510.13 L578.00,510.81 L579.00,511.48 L580.00,512.13 L581.00,512.78 L582.00,513.41 L583.00,514.04 L584.00,514.64 L585.00,515.24 L586.00,515.82 L587.00,516.38 L588.00,516.93 L589.00,517.46 L590.00,517.98 L591.00,518.48 L592.00,518.96 L593.00,519.42 L594.00,519.87 L595.00,520.29 L596.00,520.69 L597.00,521.08 L598.00,521.44 L599.00,521.79 L600.00,522.12 L601.00,522.42 L602.00,522.71 L603.00,522.99 L604.00,523.24 L605.00,523.48 L606.00,523.71 L607.00,523.92 L608.00,524.11 L609.00,524.29 L610.00,524.46 L611.00,524.61 L612.00,524.75 L613.00,524.88 L614.00,524.99 L615.00,525.10 L616.00,525.19 L617.00,525.28 L618.00,525.35 L619.00,525.41 L620.00,525.47 L621.00,525.51 L622.00,525.55 L623.00,525.58 L624.00,525.61 L625.00,525.63 L626.00,525.64 L627.00,525.64 L628.00,525.65 L629.00,525.64 L630.00,525.64 L631.00,525.63 L632.00,525.61 L633.00,525.60 L634.00,525.58 L635.00,525.56 L636.00,525.54 L637.00,525.52 L638.00,525.50 L639.00,525.48 L640.00,525.46 L641.00,525.44 L642.00,525.42 L643.00,525.41 L644.00,525.40 L645.00,525.39 L646.00,525.39 L647.00,525.39 L648.00,525.40 L649.00,525.41 L650.00,525.42 L651.00,525.45 L652.00,525.48 L653.00,525.51 L654.00,525.56 L655.00,525.61 L656.00,525.66 L657.00,525.72 L658.00,525.79 L659.00,525.87 L660.00,525.95 L661.00,526.04 L662.00,526.14 L663.00,526.24 L664.00,526.35 L665.00,526.47 L666.00,526.59 L667.00,526.72 L668.00,526.86 L669.00,527.01 L670.00,527.16 L671.00,527.32 L672.00,527.49 L673.00,527.66 L674.00,527.84 L675.00,528.03 L676.00,528.23 L677.00,528.43 L678.00,528.64 L679.00,528.86 L680.00,529.09 L681.00,529.32 L682.00,529.56 L683.00,529.81 L684.00,530.07 L685.00,530.33 L686.00,530.60 L687.00,530.88 L688.00,531.17 L689.00,531.47 L690.00,531.77 L691.00,532.08 L692.00,532.40 L693.00,532.73 L694.00,533.07 L695.00,533.41 L696.00,533.76 L697.00,534.12 L698.00,534.49 L699.00,534.87 L700.00,535.26 L701.00,535.65 L702.00,536.05 L703.00,536.47 L704.00,536.89 L705.00,537.31 L706.00,537.75 L707.00,538.20 L708.00,538.65 L709.00,539.11 L710.00,539.57 L711.00,540.03 L712.00,540.50 L713.00,540.97 L714.00,541.44 L715.00,541.91 L716.00,542.38 L717.00,542.85 L718.00,543.31 L719.00,543.77 L720.00,544.22 L721.00,544.66 L722.00,545.10 L723.00,545.54 L724.00,545.97 L725.00,546.40 L726.00,546.83 L727.00,547.26 L728.00,547.70 L729.00,548.12 L730.00,548.52 L731.00,548.91 L732.00,549.31 L733.00,549.74 L734.00,550.19 L735.00,550.68 L736.00,551.21 L737.00,551.78 L738.00,552.38 L739.00,553.03 L740.00,553.71 L741.00,554.42 L742.00,555.15 L743.00,555.89 L744.00,556.65 L745.00,557.41 L746.00,558.17 L747.00,558.93 L748.00,559.69 L749.00,560.44 L750.00,561.18 L751.00,561.93 L752.00,562.68 L753.00,563.43 L754.00,564.18 L755.00,564.93 L756.00,565.68 L757.00,566.43 L758.00,567.18 L759.00,567.93 L760.00,568.68 L761.00,569.43 L762.00,570.17 L763.00,570.92 L764.00,571.67 L765.00,572.42 L766.00,573.17 L767.00,573.92 L768.00,574.67 L769.00,575.42 L770.00,576.17 L771.00,576.92 L772.00,577.67 L773.00,578.41 L774.00,579.16 L775.00,579.91 L776.00,580.66 L777.00,581.41 L778.00,582.16 L779.00,582.91 L780.00,583.66 L781.00,584.41 L782.00,585.16 L783.00,585.91 L784.00,586.65 L785.00,587.40 L786.00,588.15 L787.00,588.90 L788.00,589.65 L789.00,590.40 L790.00,591.15 L791.00,591.90 L792.00,592.65" stroke="#f00" stroke-width="2.0" stroke-dasharray="15.9 15.97" stroke-dashoffset="0"/>
<path d="M151.00,115.91 L152.00,116.64 L153.00,117.37 L154.00,118.10 L155.00,118.84 L156.00,119.57 L157.00,120.31 L158.00,121.05 L159.00,121.79 L160.00,122.53 L161.00,123.27 L162.00,124.01 L163.00,124.76 L164.00,125.50 L165.00,126.25 L166.00,127.00 L167.00,127.75 L168.00,128.50 L169.00,129.25 L170.00,130.00 L171.00,130.76 L172.00,131.51 L173.00,132.27 L174.00,133.03 L175.00,133.79 L176.00,134.55 L177.00,135.31 L178.00,136.07 L179.00,136.83 L180.00,137.60 L181.00,138.36 L182.00,139.13 L183.00,139.90 L184.00,140.67 L185.00,141.44 L186.00,142.21 L187.00,142.98 L188.00,143.75 L189.00,144.53 L190.00,145.30 L191.00,146.08 L192.00,146.86 L193.00,147.64 L194.00,148.42 L195.00,149.20 L196.00,149.98 L197.00,150.76 L198.00,151.55 L199.00,152.33 L200.00,153.12 L201.00,153.90 L202.00,154.69 L203.00,155.48 L204.00,156.27 L205.00,157.06 L206.00,157.85 L207.00,158.64 L208.00,159.43 L209.00,160.23 L210.00,161.02 L211.00,161.82 L212.00,162.62 L213.00,163.41 L214.00,164.21 L215.00,165.01 L216.00,165.81 L217.00,166.61 L218.00,167.41 L219.00,168.21 L220.00,169.02 L221.00,169.82 L222.00,170.63 L223.00,171.43 L224.00,172.24 L225.00,173.05 L226.00,173.85 L227.00,174.66 L228.00,175.47 L229.00,176.28 L230.00,177.09 L231.00,177.90 L232.00,178.72 L233.00,179.53 L234.00,180.34 L235.00,181.16 L236.00,181.97 L237.00,182.79 L238.00,183.61 L239.00,184.42 L240.00,185.24 L241.00,186.06 L242.00,186.88 L243.00,187.70 L244.00,188.52 L245.00,189.34 L246.00,190.16 L247.00,190.98 L248.00,191.81 L249.00,192.63 L250.00,193.45 L251.00,194.28 L252.00,195.10 L253.00,195.93 L254.00,196.75 L255.00,197.58 L256.00,198.41 L257.00,199.23 L258.00,200.06 L259.00,200.89 L260.00,201.72 L261.00,202.55 L262.00,203.38 L263.00,204.21 L264.00,205.04 L265.00,205.87 L266.00,206.71 L267.00,207.54 L268.00,208.37 L269.00,209.20 L270.00,210.04 L271.00,210.87 L272.00,211.71 L273.00,212.54 L274.00,213.38 L275.00,214.21 L276.00,215.05 L277.00,215.88 L278.00,216.72 L279.00,217.56 L280.00,218.40 L281.00,219.23 L282.00,220.07 L283.00,220.91 L284.00,221.75 L285.00,222.59 L286.00,223.43 L287.00,224.27 L288.00,225.11 L289.00,225.95 L290.00,226.79 L291.00,227.63 L292.00,228.47 L293.00,229.31 L294.00,230.15 L295.00,230.99 L296.00,231.83 L297.00,232.67 L298.00,233.52 L299.00,234.36 L300.00,235.20 L301.00,236.04 L302.00,236.89 L303.00,237.73 L304.00,238.57 L305.00,239.42 L306.00,240.26 L307.00,241.10 L308.00,241.95 L309.00,242.79 L310.00,243.64 L311.00,244.48 L312.00,245.33 L313.00,246.17 L314.00,247.02 L315.00,247.86 L316.00,248.71 L317.00,249.55 L318.00,250.40 L319.00,251.25 L320.00,252.10 L321.00,252.94 L322.00,253.79 L323.00,254.64 L324.00,255.49 L325.00,256.34 L326.00,257.19 L327.00,258.04 L328.00,258.89 L329.00,259.74 L330.00,260.60 L331.00,261.45 L332.00,262.30 L333.00,263.15 L334.00,264.01 L335.00,264.86 L336.00,265.72 L337.00,266.57 L338.00,267.43 L339.00,268.28 L340.00,269.14 L341.00,270.00 L342.00,270.86 L343.00,271.71 L344.00,272.57 L345.00,273.43 L346.00,274.29 L347.00,275.15 L348.00,276.02 L349.00,276.88 L350.00,277.74 L351.00,278.60 L352.00,279.47 L353.00,280.33 L354.00,281.20 L355.00,282.07 L356.00,282.93 L357.00,283.80 L358.00,284.67 L359.00,285.54 L360.00,286.41 L361.00,287.28 L362.00,288.15 L363.00,289.02 L364.00,289.90 L365.00,290.77 L366.00,291.64 L367.00,292.52 L368.00,293.40 L369.00,294.27 L370.00,295.15 L371.00,296.03 L372.00,296.91 L373.00,297.79 L374.00,298.67 L375.00,299.55 L376.00,300.44 L377.00,301.32 L378.00,302.21 L379.00,303.09 L380.00,303.98 L381.00,304.87 L382.00,305.76 L383.00,306.65 L384.00,307.54 L385.00,308.43 L386.00,309.32 L387.00,310.22 L388.00,311.11 L389.00,312.01 L390.00,312.90 L391.00,313.80 L392.00,314.70 L393.00,315.60 L394.00,316.50 L395.00,317.41 L396.00,318.31 L397.00,319.21 L398.00,320.12 L399.00,321.03 L400.00,321.94 L401.00,322.84 L402.00,323.75 L403.00,324.67 L404.00,325.58 L405.00,326.49 L406.00,327.41 L407.00,328.32 L408.00,329.24 L409.00,330.16 L410.00,331.08 L411.00,332.00 L412.00,332.92 L413.00,333.85 L414.00,334.77 L415.00,335.70 L416.00,336.63 L417.00,337.56 L418.00,338.49 L419.00,339.42 L420.00,340.35 L421.00,341.28 L422.00,342.22 L423.00,343.15 L424.00,344.09 L425.00,345.03 L426.00,345.97 L427.00,346.91 L428.00,347.85 L429.00,348.80 L430.00,349.74 L431.00,350.69 L432.00,351.64 L433.00,352.59 L434.00,353.54 L435.00,354.49 L436.00,355.44 L437.00,356.39 L438.00,357.35 L439.00,358.30 L440.00,359.26 L441.00,360.22 L442.00,361.18 L443.00,362.14 L444.00,363.10 L445.00,364.07 L446.00,365.03 L447.00,366.00 L448.00,366.97 L449.00,367.94 L450.00,368.91 L451.00,369.88 L452.00,370.85 L453.00,371.82 L454.00,372.80 L455.00,373.77 L456.00,374.75 L457.00,375.73 L458.00,376.71 L459.00,377.69 L460.00,378.67 L461.00,379.66 L462.00,380.64 L463.00,381.63 L464.00,382.62 L465.00,383.61 L466.00,384.60 L467.00,385.59 L468.00,386.58 L469.00,387.57 L470.00,388.57 L471.00,389.57 L472.00,390.56 L473.00,391.56 L474.00,392.56 L475.00,393.56 L476.00,394.57 L477.00,395.57 L478.00,396.58 L479.00,397.58 L480.00,398.59 L481.00,399.60 L482.00,400.61 L483.00,401.62 L484.00,402.63 L485.00,403.64 L486.00,404.66 L487.00,405.67 L488.00,406.68 L489.00,407.69 L490.00,408.71 L491.00,409.72 L492.00,410.73 L493.00,411.74 L494.00,412.75 L495.00,413.75 L496.00,414.76 L497.00,415.76 L498.00,416.76 L499.00,417.76 L500.00,418.76 L501.00,419.76 L502.00,420.75 L503.00,421.74 L504.00,422.73 L505.00,423.71 L506.00,424.69 L507.00,425.66 L508.00,426.64 L509.00,427.61 L510.00,428.57 L511.00,429.53 L512.00,430.49 L513.00,431.44 L514.00,432.38 L515.00,433.32 L516.00,434.26 L517.00,435.19 L518.00,436.11 L519.00,437.03 L520.00,437.94 L521.00,438.85 L522.00,439.75 L523.00,440.64 L524.00,441.53 L525.00,442.41 L526.00,443.28 L527.00,444.15 L528.00,445.00 L529.00,445.85 L530.00,446.70 L531.00,447.53 L532.00,448.36 L533.00,449.17 L534.00,449.98 L535.00,450.78 L536.00,451.57 L537.00,452.35 L538.00,453.12 L539.00,453.89 L540.00,454.64 L541.00,455.38 L542.00,456.12 L543.00,456.84 L544.00,457.55 L545.00,458.25 L546.00,458.95 L547.00,459.63 L548.00,460.30 L549.00,460.97 L550.00,461.62 L551.00,462.27 L552.00,462.91 L553.00,463.54 L554.00,464.16 L555.00,464.77 L556.00,465.37 L557.00,465.96 L558.00,466.55 L559.00,467.13 L560.00,467.70 L561.00,468.26 L562.00,468.81 L563.00,469.36 L564.00,469.90 L565.00,470.43 L566.00,470.96 L567.00,471.47 L568.00,471.98 L569.00,472.49 L570.00,472.98 L571.00,473.47 L572.00,473.95 L573.00,474.43 L574.00,474.90 L575.00,475.36 L576.00,475.82 L577.00,476.27 L578.00,476.72 L579.00,477.16 L580.00,477.59 L581.00,478.02 L582.00,478.44 L583.00,478.86 L584.00,479.27 L585.00,479.68 L586.00,480.08 L587.00,480.48 L588.00,480.87 L589.00,481.26 L590.00,481.65 L591.00,482.03 L592.00,482.40 L593.00,482.77 L594.00,483.14 L595.00,483.50 L596.00,483.86 L597.00,484.22 L598.00,484.57 L599.00,484.92 L600.00,485.27 L601.00,485.61 L602.00,485.95 L603.00,486.29 L604.00,486.62 L605.00,486.95 L606.00,487.28 L607.00,487.61 L608.00,487.93 L609.00,488.25 L610.00,488.57 L611.00,488.89 L612.00,489.21 L613.00,489.52 L614.00,489.83 L615.00,490.14 L616.00,490.45 L617.00,490.76 L618.00,491.07 L619.00,491.37 L620.00,491.68 L621.00,491.98 L622.00,492.29 L623.00,492.59 L624.00,492.89 L625.00,493.19 L626.00,493.50 L627.00,493.80 L628.00,494.10 L629.00,494.40 L630.00,494.70 L631.00,495.01 L632.00,495.31 L633.00,495.61 L634.00,495.92 L635.00,496.22 L636.00,496.53 L637.00,496.84 L638.00,497.15 L639.00,497.46 L640.00,497.77 L641.00,498.08 L642.00,498.40 L643.00,498.72 L644.00,499.04 L645.00,499.36 L646.00,499.69 L647.00,500.02 L648.00,500.35 L649.00,500.69 L650.00,501.03 L651.00,501.37 L652.00,501.72 L653.00,502.08 L654.00,502.43 L655.00,502.80 L656.00,503.16 L657.00,503.53 L658.00,503.91 L659.00,504.30 L660.00,504.69 L661.00,505.08 L662.00,505.48 L663.00,505.89 L664.00,506.31 L665.00,506.73 L666.00,507.16 L667.00,507.59 L668.00,508.04 L669.00,508.49 L670.00,508.95 L671.00,509.42 L672.00,509.89 L673.00,510.38 L674.00,510.87 L675.00,511.37 L676.00,511.88 L677.00,512.40 L678.00,512.93 L679.00,513.47 L680.00,514.02 L681.00,514.58 L682.00,515.16 L683.00,515.73 L684.00,516.32 L685.00,516.91 L686.00,517.51 L687.00,518.11 L688.00,518.72 L689.00,519.33 L690.00,519.94 L691.00,520.55 L692.00,521.16 L693.00,521.76 L694.00,522.37 L695.00,522.97 L696.00,523.56 L697.00,524.15 L698.00,524.73 L699.00,525.29 L700.00,525.82 L701.00,526.33 L702.00,526.83 L703.00,527.34 L704.00,527.86 L705.00,528.39 L706.00,528.95 L707.00,529.53 L708.00,530.14 L709.00,530.77 L710.00,531.43 L711.00,532.10 L712.00,532.80 L713.00,533.51 L714.00,534.24 L715.00,534.97 L716.00,535.72 L717.00,536.46 L718.00,537.21 L719.00,537.96 L720.00,538.71 L721.00,539.46 L722.00,540.21 L723.00,540.96 L724.00,541.71 L725.00,542.46 L726.00,543.21 L727.00,543.96 L728.00,544.70 L729.00,545.45 L730.00,546.20 L731.00,546.95 L732.00,547.70 L733.00,548.45 L734.00,549.20 L735.00,549.95 L736.00,550.70 L737.00,551.45 L738.00,552.20 L739.00,552.94 L740.00,553.69 L741.00,554.44 L742.00,555.19 L743.00,555.94 L744.00,556.69 L745.00,557.44 L746.00,558.19 L747.00,558.94 L748.00,559.69 L749.00,560.44 L750.00,561.18 L751.00,561.93 L752.00,562.68 L753.00,563.43 L754.00,564.18 L755.00,564.93 L756.00,565.68 L757.00,566.43 L758.00,567.18 L759.00,567.93 L760.00,568.68 L761.00,569.43 L762.00,570.17 L763.00,570.92 L764.00,571.67 L765.00,572.42 L766.00,573.17 L767.00,573.92 L768.00,574.67 L769.00,575.42 L770.00,576.17 L771.00,576.92 L772.00,577.67 L773.00,578.41 L774.00,579.16 L775.00,579.91 L776.00,580.66 L777.00,581.41 L778.00,582.16 L779.00,582.91 L780.00,583.66 L781.00,584.41 L782.00,585.16 L783.00,585.91 L784.00,586.65 L785.00,587.40 L786.00,588.15 L787.00,588.90 L788.00,589.65 L789.00,590.40 L790.00,591.15 L791.00,591.90 L792.00,592.65" stroke="#f00" stroke-width="2.4" stroke-dasharray="3.1 6.46" stroke-dashoffset="0"/>
<path d="M151.00,156.48 L152.00,157.26 L153.00,158.07 L154.00,158.90 L155.00,159.75 L156.00,160.62 L157.00,161.52 L158.00,162.44 L159.00,163.39 L160.00,164.36 L161.00,165.35 L162.00,166.36 L163.00,167.39 L164.00,168.45 L165.00,169.52 L166.00,170.62 L167.00,171.74 L168.00,172.88 L169.00,174.05 L170.00,175.23 L171.00,176.43 L172.00,177.65 L173.00,178.90 L174.00,180.16 L175.00,181.45 L176.00,182.75 L177.00,184.07 L178.00,185.41 L179.00,186.77 L180.00,188.15 L181.00,189.55 L182.00,190.97 L183.00,192.40 L184.00,193.85 L185.00,195.32 L186.00,196.81 L187.00,198.32 L188.00,199.84 L189.00,201.38 L190.00,202.94 L191.00,204.51 L192.00,206.10 L193.00,207.71 L194.00,209.33 L195.00,210.97 L196.00,212.62 L197.00,214.29 L198.00,215.98 L199.00,217.68 L200.00,219.40 L201.00,221.13 L202.00,222.87 L203.00,224.63 L204.00,226.41 L205.00,228.20 L206.00,230.00 L207.00,231.81 L208.00,233.64 L209.00,235.49 L210.00,237.35 L211.00,239.22 L212.00,241.11 L213.00,243.01 L214.00,244.93 L215.00,246.86 L216.00,248.81 L217.00,250.77 L218.00,252.75 L219.00,254.74 L220.00,256.74 L221.00,258.76 L222.00,260.80 L223.00,262.85 L224.00,264.92 L225.00,267.00 L226.00,269.10 L227.00,271.21 L228.00,273.34 L229.00,275.48 L230.00,277.64 L231.00,279.82 L232.00,282.01 L233.00,284.22 L234.00,286.44 L235.00,288.68 L236.00,290.93 L237.00,293.20 L238.00,295.49 L239.00,297.80 L240.00,300.12 L241.00,302.45 L242.00,304.81 L243.00,307.17 L244.00,309.56 L245.00,311.96 L246.00,314.38 L247.00,316.82 L248.00,319.27 L249.00,321.74 L250.00,324.23 L251.00,326.73 L252.00,329.25 L253.00,331.79 L254.00,334.35 L255.00,336.92 L256.00,339.51 L257.00,342.12 L258.00,344.74 L259.00,347.39 L260.00,350.05 L261.00,352.73 L262.00,355.42 L263.00,358.14 L263.50,359.50 L264.50,362.99 L265.50,366.49 L266.50,370.01 L267.50,373.55 L268.50,377.11 L269.50,380.67 L270.50,384.25 L271.50,387.83 L272.50,391.43 L273.50,395.03 L274.50,398.64 L275.50,402.25 L276.50,405.86 L277.50,409.47 L278.50,413.08 L279.50,416.69 L280.50,420.29 L281.50,423.89 L282.50,427.47 L283.50,431.05 L284.50,434.62 L285.50,438.18 L286.50,441.73 L287.50,445.25 L288.50,448.77 L289.50,452.26 L290.50,455.73 L291.50,459.18 L292.50,462.61 L293.50,466.01 L294.50,469.39 L295.50,472.74 L296.50,476.06 L297.50,479.35 L298.50,482.61 L299.50,485.83 L300.50,489.02 L301.50,492.17 L302.50,495.28 L303.50,498.35 L304.50,501.38 L305.50,504.36 L306.50,507.30 L307.50,510.20 L308.50,513.04 L309.50,515.84 L310.50,518.58 L311.50,521.27 L312.50,523.91 L313.50,526.49 L314.50,529.02 L315.50,531.48 L316.50,533.89 L317.50,536.23 L318.50,538.51 L319.50,540.72 L320.50,542.87 L320.80,543.50 L321.80,544.22 L322.80,544.85 L323.80,545.41 L324.80,545.89 L325.80,546.30 L326.80,546.63 L327.80,546.89 L328.80,547.08 L329.80,547.20 L330.80,547.26 L331.80,547.25 L332.80,547.18 L333.80,547.05 L334.80,546.86 L335.80,546.62 L336.80,546.32 L337.80,545.97 L338.80,545.57 L339.80,545.12 L340.80,544.62 L341.80,544.08 L342.80,543.49 L343.80,542.87 L344.80,542.20 L345.80,541.50 L346.80,540.76 L347.80,539.98 L348.80,539.18 L349.80,538.34 L350.80,537.48 L351.80,536.59 L352.80,535.67 L353.80,534.74 L354.80,533.78 L355.80,532.81 L356.80,531.81 L357.80,530.81 L358.80,529.79 L359.80,528.76 L360.80,527.71 L361.80,526.67 L362.80,525.61 L363.80,524.56 L364.80,523.50 L365.80,522.44 L366.80,521.38 L367.80,520.33 L368.80,519.28 L369.80,518.25 L370.80,517.22 L371.80,516.20 L372.80,515.19 L373.80,514.20 L374.80,513.23 L375.80,512.28 L376.80,511.35 L377.40,510.80 L378.40,510.24 L379.40,509.69 L380.40,509.14 L381.40,508.59 L382.40,508.05 L383.40,507.51 L384.40,506.97 L385.40,506.43 L386.40,505.90 L387.40,505.37 L388.40,504.84 L389.40,504.32 L390.40,503.80 L391.40,503.28 L392.40,502.76 L393.40,502.25 L394.40,501.74 L395.40,501.23 L396.40,500.72 L397.40,500.22 L398.40,499.72 L399.40,499.22 L400.40,498.73 L401.40,498.23 L402.40,497.74 L403.40,497.25 L404.40,496.77 L405.40,496.28 L406.40,495.80 L407.40,495.32 L408.40,494.85 L409.40,494.37 L410.40,493.90 L411.40,493.43 L412.40,492.96 L413.40,492.50 L414.40,492.03 L415.40,491.57 L416.40,491.11 L417.40,490.65 L418.40,490.20 L419.40,489.74 L420.40,489.29 L421.40,488.84 L422.40,488.40 L423.40,487.95 L424.40,487.51 L425.40,487.06 L426.40,486.62 L427.40,486.19 L428.40,485.75 L429.40,485.31 L430.40,484.88 L431.40,484.45 L432.40,484.02 L433.40,483.59 L434.40,483.16 L435.40,482.74 L436.40,482.32 L437.40,481.89 L438.40,481.47 L439.40,481.05 L440.40,480.64 L441.40,480.22 L442.40,479.80 L443.40,479.39 L444.40,478.98 L445.40,478.57 L446.40,478.16 L447.40,477.75 L448.40,477.34 L449.40,476.94 L450.40,476.53 L451.40,476.13 L452.40,475.73 L453.40,475.33 L454.40,474.93 L455.40,474.53 L456.40,474.14 L457.40,473.74 L458.40,473.35 L459.40,472.96 L460.40,472.57 L461.40,472.18 L462.40,471.80 L463.40,471.42 L464.40,471.03 L465.40,470.66 L466.40,470.28 L467.40,469.90 L468.40,469.53 L469.40,469.16 L470.40,468.79 L471.40,468.43 L472.40,468.06 L473.40,467.70 L474.40,467.34 L475.40,466.99 L476.40,466.64 L477.40,466.29 L478.40,465.94 L479.40,465.59 L480.40,465.25 L481.40,464.91 L482.40,464.57 L483.40,464.24 L484.40,463.91 L485.40,463.58 L486.40,463.26 L487.40,462.94 L488.40,462.62 L489.40,462.30 L490.40,461.99 L491.40,461.68 L492.40,461.38 L493.40,461.08 L494.40,460.78 L495.40,460.49 L496.40,460.20 L497.40,459.91 L498.40,459.63 L499.40,459.35 L500.40,459.07 L501.40,458.80 L502.40,458.53 L503.40,458.27 L504.40,458.01 L505.40,457.75 L506.40,457.50 L507.40,457.25 L508.40,457.01 L509.40,456.77 L510.40,456.54 L511.40,456.31 L512.40,456.09 L513.40,455.87 L514.40,455.65 L515.40,455.44 L516.40,455.24 L517.40,455.04 L518.40,454.84 L519.40,454.65 L520.40,454.47 L521.40,454.29 L522.40,454.11 L523.40,453.95 L524.40,453.78 L525.40,453.62 L526.40,453.47 L527.40,453.33 L528.40,453.19 L529.40,453.05 L530.40,452.92 L531.40,452.80 L532.40,452.69 L533.40,452.57 L534.40,452.47 L535.40,452.37 L536.40,452.28 L537.40,452.20 L538.40,452.12 L539.40,452.05 L540.40,451.98 L541.40,451.92 L542.40,451.87 L543.40,451.82 L544.40,451.79 L545.40,451.75 L546.40,451.73 L547.40,451.71 L548.40,451.70 L549.40,451.70 L550.40,451.70 L551.40,451.72 L552.40,451.73 L553.40,451.76 L554.40,451.80 L555.40,451.84 L556.40,451.89 L557.40,451.95 L558.40,452.01 L559.40,452.08 L560.40,452.17 L561.40,452.25 L562.40,452.35 L563.40,452.46 L564.40,452.57 L565.40,452.69 L566.40,452.83 L567.40,452.96 L568.40,453.11 L569.40,453.27 L570.40,453.43 L571.40,453.61 L572.40,453.79 L573.40,453.98 L574.40,454.18 L575.40,454.39 L576.40,454.61 L577.40,454.84 L578.40,455.08 L579.40,455.32 L580.40,455.58 L581.40,455.84 L582.40,456.12 L583.40,456.40 L584.40,456.70 L585.40,457.00 L586.40,457.32 L587.40,457.64 L588.40,457.97 L589.40,458.31 L590.40,458.66 L591.40,459.02 L592.40,459.39 L593.40,459.76 L594.40,460.15 L595.40,460.54 L596.40,460.94 L597.40,461.35 L598.40,461.77 L599.40,462.19 L600.40,462.63 L601.40,463.07 L602.40,463.51 L603.40,463.97 L604.40,464.43 L605.40,464.90 L606.40,465.37 L607.40,465.86 L608.40,466.35 L609.40,466.84 L610.40,467.34 L611.40,467.85 L612.40,468.37 L613.40,468.89 L614.40,469.41 L615.40,469.94 L616.40,470.48 L617.40,471.02 L618.40,471.57 L619.40,472.12 L620.40,472.68 L621.40,473.25 L622.40,473.81 L623.40,474.39 L624.40,474.96 L625.40,475.54 L626.40,476.13 L627.40,476.72 L628.40,477.31 L629.40,477.91 L630.40,478.51 L631.40,479.12 L632.40,479.73 L633.40,480.34 L634.40,480.95 L635.40,481.57 L636.40,482.19 L637.40,482.82 L638.40,483.44 L639.40,484.07 L640.40,484.70 L641.40,485.34 L642.40,485.97 L643.40,486.61 L644.40,487.25 L645.40,487.89 L646.40,488.54 L647.40,489.18 L648.40,489.83 L649.40,490.47 L650.40,491.12 L651.40,491.77 L652.40,492.42 L653.40,493.07 L654.40,493.73 L655.40,494.38 L656.40,495.03 L657.40,495.69 L658.40,496.34 L659.40,497.00 L660.40,497.65 L661.40,498.31 L662.40,498.97 L663.40,499.62 L664.40,500.28 L665.40,500.94 L666.40,501.60 L667.40,502.27 L668.40,502.93 L669.40,503.59 L670.40,504.25 L671.40,504.92 L672.40,505.58 L673.40,506.25 L674.40,506.92 L675.40,507.58 L676.40,508.25 L677.40,508.92 L678.40,509.59 L679.40,510.26 L680.40,510.93 L681.40,511.61 L682.40,512.28 L683.40,512.95 L684.40,513.63 L685.40,514.30 L686.40,514.98 L687.40,515.66 L688.40,516.34 L689.40,517.02 L690.40,517.70 L691.40,518.38 L692.40,519.06 L693.40,519.73 L694.40,520.39 L695.40,521.05 L696.40,521.70 L697.40,522.36 L698.40,523.02 L699.40,523.68 L700.40,524.35 L701.40,525.03 L702.40,525.72 L703.40,526.42 L704.40,527.12 L705.40,527.84 L706.40,528.56 L707.40,529.29 L708.40,530.03 L709.40,530.77 L710.40,531.52 L711.40,532.27 L712.40,533.02 L713.40,533.77 L714.40,534.52 L715.40,535.27 L716.40,536.02 L717.40,536.76 L718.40,537.51 L719.40,538.26 L720.40,539.01 L721.40,539.76 L722.40,540.51 L723.40,541.26 L724.40,542.01 L725.40,542.76 L726.40,543.51 L727.40,544.26 L728.40,545.00 L729.40,545.75 L730.40,546.50 L731.40,547.25 L732.40,548.00 L733.40,548.75 L734.40,549.50 L735.40,550.25 L736.40,551.00 L737.40,551.75 L738.40,552.50 L739.40,553.24 L740.40,553.99 L741.40,554.74 L742.40,555.49 L743.40,556.24 L744.40,556.99 L745.40,557.74 L746.40,558.49 L747.40,559.24 L748.40,559.99 L749.40,560.74 L750.40,561.48 L751.40,562.23 L752.40,562.98 L753.40,563.73 L754.40,564.48 L755.40,565.23 L756.40,565.98 L757.40,566.73 L758.40,567.48 L759.40,568.23 L760.40,568.98 L761.40,569.72 L762.40,570.47 L763.40,571.22 L764.40,571.97 L765.40,572.72 L766.40,573.47 L767.40,574.22 L768.40,574.97 L769.40,575.72 L770.40,576.47 L771.40,577.22 L772.40,577.96 L773.40,578.71 L774.40,579.46 L775.40,580.21 L776.40,580.96 L777.40,581.71 L778.40,582.46 L779.40,583.21 L780.40,583.96 L781.40,584.71 L782.40,585.46 L783.40,586.21 L784.40,586.95 L785.40,587.70 L786.40,588.45 L787.40,589.20 L788.40,589.95 L789.40,590.70 L790.40,591.45 L791.40,592.20 L792.00,592.65" stroke="#00f" stroke-width="4.9"/>
<path d="M151.00,153.76 L152.00,154.53 L153.00,155.32 L154.00,156.13 L155.00,156.97 L156.00,157.82 L157.00,158.69 L158.00,159.59 L159.00,160.50 L160.00,161.44 L161.00,162.39 L162.00,163.36 L163.00,164.36 L164.00,165.37 L165.00,166.40 L166.00,167.44 L167.00,168.51 L168.00,169.59 L169.00,170.69 L170.00,171.81 L171.00,172.94 L172.00,174.10 L173.00,175.26 L174.00,176.45 L175.00,177.65 L176.00,178.86 L177.00,180.10 L178.00,181.34 L179.00,182.61 L180.00,183.88 L181.00,185.17 L182.00,186.48 L183.00,187.80 L184.00,189.13 L185.00,190.48 L186.00,191.84 L187.00,193.21 L188.00,194.60 L189.00,196.00 L190.00,197.41 L191.00,198.83 L192.00,200.26 L193.00,201.71 L194.00,203.17 L195.00,204.64 L196.00,206.12 L197.00,207.61 L198.00,209.11 L199.00,210.62 L200.00,212.14 L201.00,213.67 L202.00,215.21 L203.00,216.76 L204.00,218.31 L205.00,219.88 L206.00,221.45 L207.00,223.04 L208.00,224.63 L209.00,226.23 L210.00,227.83 L211.00,229.44 L212.00,231.06 L213.00,232.69 L214.00,234.32 L215.00,235.96 L216.00,237.60 L217.00,239.25 L218.00,240.91 L219.00,242.57 L220.00,244.24 L221.00,245.91 L222.00,247.59 L223.00,249.27 L224.00,250.97 L225.00,252.67 L226.00,254.39 L227.00,256.11 L228.00,257.84 L229.00,259.59 L230.00,261.35 L231.00,263.12 L232.00,264.90 L233.00,266.70 L234.00,268.52 L235.00,270.35 L236.00,272.19 L237.00,274.06 L238.00,275.94 L239.00,277.84 L240.00,279.76 L241.00,281.70 L242.00,283.66 L243.00,285.64 L244.00,287.64 L245.00,289.67 L246.00,291.72 L247.00,293.79 L248.00,295.89 L249.00,298.02 L250.00,300.17 L251.00,302.34 L252.00,304.55 L253.00,306.78 L254.00,309.04 L255.00,311.33 L256.00,313.66 L257.00,316.01 L258.00,318.39 L259.00,320.81 L260.00,323.26 L261.00,325.75 L262.00,328.26 L263.00,330.82 L264.00,333.40 L265.00,336.02 L266.00,338.67 L267.00,341.34 L268.00,344.05 L269.00,346.78 L270.00,349.53 L271.00,352.31 L272.00,355.11 L273.00,357.93 L274.00,360.77 L275.00,363.63 L276.00,366.50 L277.00,369.39 L278.00,372.29 L279.00,375.20 L280.00,378.13 L281.00,381.06 L282.00,384.00 L283.00,386.95 L284.00,389.91 L285.00,392.86 L286.00,395.82 L287.00,398.78 L288.00,401.75 L289.00,404.70 L290.00,407.66 L291.00,410.61 L292.00,413.56 L293.00,416.50 L294.00,419.42 L295.00,422.34 L296.00,425.24 L297.00,428.11 L298.00,430.96 L299.00,433.78 L300.00,436.57 L301.00,439.31 L302.00,442.01 L303.00,444.66 L304.00,447.26 L305.00,449.80 L306.00,452.28 L307.00,454.70 L308.00,457.04 L309.00,459.31 L310.00,461.50 L311.00,463.61 L312.00,465.64 L313.00,467.58 L314.00,469.43 L315.00,471.20 L316.00,472.89 L317.00,474.49 L318.00,476.00 L319.00,477.42 L320.00,478.76 L321.00,480.01 L322.00,481.17 L323.00,482.24 L324.00,483.22 L325.00,484.11 L326.00,484.91 L327.00,485.62 L328.00,486.24 L329.00,486.77 L330.00,487.22 L331.00,487.58 L332.00,487.86 L333.00,488.07 L334.00,488.21 L335.00,488.27 L336.00,488.28 L337.00,488.22 L338.00,488.10 L339.00,487.93 L340.00,487.71 L341.00,487.44 L342.00,487.13 L343.00,486.77 L344.00,486.38 L345.00,485.96 L346.00,485.50 L347.00,485.00 L348.00,484.48 L349.00,483.93 L350.00,483.35 L351.00,482.75 L352.00,482.13 L353.00,481.49 L354.00,480.83 L355.00,480.15 L356.00,479.46 L357.00,478.75 L358.00,478.03 L359.00,477.31 L360.00,476.57 L361.00,475.83 L362.00,475.08 L363.00,474.33 L364.00,473.57 L365.00,472.82 L366.00,472.06 L367.00,471.30 L368.00,470.54 L369.00,469.79 L370.00,469.04 L371.00,468.30 L372.00,467.57 L373.00,466.84 L374.00,466.12 L375.00,465.42 L376.00,464.73 L377.00,464.05 L378.00,463.38 L379.00,462.73 L380.00,462.10 L381.00,461.49 L382.00,460.90 L383.00,460.32 L384.00,459.77 L385.00,459.25 L386.00,458.73 L387.00,458.24 L388.00,457.76 L389.00,457.30 L390.00,456.85 L391.00,456.40 L392.00,455.97 L393.00,455.55 L394.00,455.13 L395.00,454.71 L396.00,454.30 L397.00,453.89 L398.00,453.48 L399.00,453.07 L400.00,452.65 L401.00,452.24 L402.00,451.83 L403.00,451.42 L404.00,451.01 L405.00,450.60 L406.00,450.19 L407.00,449.78 L408.00,449.37 L409.00,448.97 L410.00,448.56 L411.00,448.15 L412.00,447.75 L413.00,447.35 L414.00,446.94 L415.00,446.54 L416.00,446.14 L417.00,445.74 L418.00,445.34 L419.00,444.94 L420.00,444.55 L421.00,444.15 L422.00,443.76 L423.00,443.37 L424.00,442.98 L425.00,442.59 L426.00,442.21 L427.00,441.82 L428.00,441.44 L429.00,441.06 L430.00,440.68 L431.00,440.31 L432.00,439.93 L433.00,439.56 L434.00,439.19 L435.00,438.82 L436.00,438.46 L437.00,438.10 L438.00,437.74 L439.00,437.38 L440.00,437.03 L441.00,436.68 L442.00,436.33 L443.00,435.98 L444.00,435.64 L445.00,435.30 L446.00,434.97 L447.00,434.63 L448.00,434.30 L449.00,433.98 L450.00,433.65 L451.00,433.34 L452.00,433.02 L453.00,432.71 L454.00,432.40 L455.00,432.09 L456.00,431.79 L457.00,431.49 L458.00,431.20 L459.00,430.91 L460.00,430.63 L461.00,430.34 L462.00,430.07 L463.00,429.79 L464.00,429.53 L465.00,429.26 L466.00,429.00 L467.00,428.75 L468.00,428.49 L469.00,428.25 L470.00,428.01 L471.00,427.77 L472.00,427.54 L473.00,427.31 L474.00,427.09 L475.00,426.87 L476.00,426.66 L477.00,426.45 L478.00,426.25 L479.00,426.06 L480.00,425.87 L481.00,425.68 L482.00,425.50 L483.00,425.33 L484.00,425.16 L485.00,424.99 L486.00,424.84 L487.00,424.69 L488.00,424.54 L489.00,424.40 L490.00,424.27 L491.00,424.14 L492.00,424.02 L493.00,423.90 L494.00,423.79 L495.00,423.69 L496.00,423.60 L497.00,423.51 L498.00,423.42 L499.00,423.35 L500.00,423.28 L501.00,423.21 L502.00,423.16 L503.00,423.11 L504.00,423.07 L505.00,423.03 L506.00,423.00 L507.00,422.98 L508.00,422.97 L509.00,422.96 L510.00,422.96 L511.00,422.97 L512.00,422.98 L513.00,423.00 L514.00,423.03 L515.00,423.06 L516.00,423.11 L517.00,423.16 L518.00,423.21 L519.00,423.27 L520.00,423.34 L521.00,423.42 L522.00,423.51 L523.00,423.60 L524.00,423.69 L525.00,423.80 L526.00,423.91 L527.00,424.03 L528.00,424.16 L529.00,424.29 L530.00,424.43 L531.00,424.58 L532.00,424.73 L533.00,424.89 L534.00,425.06 L535.00,425.24 L536.00,425.42 L537.00,425.61 L538.00,425.80 L539.00,426.01 L540.00,426.22 L541.00,426.44 L542.00,426.66 L543.00,426.89 L544.00,427.13 L545.00,427.38 L546.00,427.63 L547.00,427.89 L548.00,428.16 L549.00,428.43 L550.00,428.71 L551.00,429.00 L552.00,429.30 L553.00,429.60 L554.00,429.91 L555.00,430.22 L556.00,430.55 L557.00,430.88 L558.00,431.22 L559.00,431.56 L560.00,431.91 L561.00,432.27 L562.00,432.64 L563.00,433.01 L564.00,433.39 L565.00,433.78 L566.00,434.17 L567.00,434.57 L568.00,434.98 L569.00,435.40 L570.00,435.82 L571.00,436.25 L572.00,436.69 L573.00,437.13 L574.00,437.58 L575.00,438.04 L576.00,438.51 L577.00,438.98 L578.00,439.46 L579.00,439.94 L580.00,440.44 L581.00,440.94 L582.00,441.45 L583.00,441.96 L584.00,442.48 L585.00,443.01 L586.00,443.55 L587.00,444.09 L588.00,444.64 L589.00,445.20 L590.00,445.77 L591.00,446.34 L592.00,446.92 L593.00,447.50 L594.00,448.10 L595.00,448.70 L596.00,449.30 L597.00,449.92 L598.00,450.54 L599.00,451.17 L600.00,451.80 L601.00,452.44 L602.00,453.09 L603.00,453.74 L604.00,454.39 L605.00,455.06 L606.00,455.73 L607.00,456.40 L608.00,457.08 L609.00,457.76 L610.00,458.45 L611.00,459.14 L612.00,459.84 L613.00,460.54 L614.00,461.25 L615.00,461.96 L616.00,462.67 L617.00,463.39 L618.00,464.11 L619.00,464.84 L620.00,465.56 L621.00,466.29 L622.00,467.03 L623.00,467.76 L624.00,468.50 L625.00,469.24 L626.00,469.99 L627.00,470.73 L628.00,471.48 L629.00,472.23 L630.00,472.98 L631.00,473.73 L632.00,474.48 L633.00,475.24 L634.00,475.99 L635.00,476.75 L636.00,477.51 L637.00,478.26 L638.00,479.02 L639.00,479.78 L640.00,480.54 L641.00,481.29 L642.00,482.05 L643.00,482.81 L644.00,483.56 L645.00,484.32 L646.00,485.07 L647.00,485.83 L648.00,486.58 L649.00,487.33 L650.00,488.08 L651.00,488.82 L652.00,489.57 L653.00,490.31 L654.00,491.06 L655.00,491.80 L656.00,492.53 L657.00,493.27 L658.00,494.01 L659.00,494.74 L660.00,495.47 L661.00,496.21 L662.00,496.94 L663.00,497.66 L664.00,498.39 L665.00,499.12 L666.00,499.84 L667.00,500.57 L668.00,501.29 L669.00,502.01 L670.00,502.73 L671.00,503.45 L672.00,504.17 L673.00,504.88 L674.00,505.60 L675.00,506.32 L676.00,507.03 L677.00,507.74 L678.00,508.46 L679.00,509.17 L680.00,509.88 L681.00,510.59 L682.00,511.30 L683.00,512.01 L684.00,512.71 L685.00,513.42 L686.00,514.13 L687.00,514.83 L688.00,515.54 L689.00,516.25 L690.00,516.95 L691.00,517.66 L692.00,518.36 L693.00,519.06 L694.00,519.77 L695.00,520.47 L696.00,521.17 L697.00,521.86 L698.00,522.56 L699.00,523.25 L700.00,523.94 L701.00,524.64 L702.00,525.34 L703.00,526.05 L704.00,526.76 L705.00,527.48 L706.00,528.21 L707.00,528.95 L708.00,529.69 L709.00,530.44 L710.00,531.19 L711.00,531.94 L712.00,532.70 L713.00,533.46 L714.00,534.21 L715.00,534.97 L716.00,535.72 L717.00,536.46 L718.00,537.21 L719.00,537.96 L720.00,538.71 L721.00,539.46 L722.00,540.21 L723.00,540.96 L724.00,541.71 L725.00,542.46 L726.00,543.21 L727.00,543.96 L728.00,544.70 L729.00,545.45 L730.00,546.20 L731.00,546.95 L732.00,547.70 L733.00,548.45 L734.00,549.20 L735.00,549.95 L736.00,550.70 L737.00,551.45 L738.00,552.20 L739.00,552.94 L740.00,553.69 L741.00,554.44 L742.00,555.19 L743.00,555.94 L744.00,556.69 L745.00,557.44 L746.00,558.19 L747.00,558.94 L748.00,559.69 L749.00,560.44 L750.00,561.18 L751.00,561.93 L752.00,562.68 L753.00,563.43 L754.00,564.18 L755.00,564.93 L756.00,565.68 L757.00,566.43 L758.00,567.18 L759.00,567.93 L760.00,568.68 L761.00,569.43 L762.00,570.17 L763.00,570.92 L764.00,571.67 L765.00,572.42 L766.00,573.17 L767.00,573.92 L768.00,574.67 L769.00,575.42 L770.00,576.17 L771.00,576.92 L772.00,577.67 L773.00,578.41 L774.00,579.16 L775.00,579.91 L776.00,580.66 L777.00,581.41 L778.00,582.16 L779.00,582.91 L780.00,583.66 L781.00,584.41 L782.00,585.16 L783.00,585.91 L784.00,586.65 L785.00,587.40 L786.00,588.15 L787.00,588.90 L788.00,589.65 L789.00,590.40 L790.00,591.15 L791.00,591.90 L792.00,592.65" stroke="#00f" stroke-width="2.0" stroke-dasharray="15.9 15.97" stroke-dashoffset="0"/>
<path d="M151.00,147.42 L152.00,148.49 L153.00,149.56 L154.00,150.63 L155.00,151.71 L156.00,152.80 L157.00,153.89 L158.00,154.98 L159.00,156.08 L160.00,157.18 L161.00,158.29 L162.00,159.40 L163.00,160.52 L164.00,161.64 L165.00,162.76 L166.00,163.89 L167.00,165.03 L168.00,166.17 L169.00,167.31 L170.00,168.46 L171.00,169.61 L172.00,170.77 L173.00,171.93 L174.00,173.10 L175.00,174.27 L176.00,175.44 L177.00,176.62 L178.00,177.81 L179.00,179.00 L180.00,180.19 L181.00,181.39 L182.00,182.59 L183.00,183.80 L184.00,185.01 L185.00,186.23 L186.00,187.45 L187.00,188.67 L188.00,189.90 L189.00,191.13 L190.00,192.37 L191.00,193.61 L192.00,194.86 L193.00,196.11 L194.00,197.37 L195.00,198.63 L196.00,199.89 L197.00,201.16 L198.00,202.43 L199.00,203.71 L200.00,204.99 L201.00,206.28 L202.00,207.57 L203.00,208.87 L204.00,210.17 L205.00,211.47 L206.00,212.78 L207.00,214.09 L208.00,215.41 L209.00,216.73 L210.00,218.06 L211.00,219.39 L212.00,220.72 L213.00,222.06 L214.00,223.40 L215.00,224.75 L216.00,226.10 L217.00,227.46 L218.00,228.83 L219.00,230.20 L220.00,231.57 L221.00,232.96 L222.00,234.35 L223.00,235.75 L224.00,237.16 L225.00,238.57 L226.00,240.00 L227.00,241.43 L228.00,242.88 L229.00,244.33 L230.00,245.80 L231.00,247.27 L232.00,248.76 L233.00,250.26 L234.00,251.77 L235.00,253.29 L236.00,254.82 L237.00,256.37 L238.00,257.93 L239.00,259.51 L240.00,261.10 L241.00,262.70 L242.00,264.32 L243.00,265.96 L244.00,267.61 L245.00,269.27 L246.00,270.96 L247.00,272.66 L248.00,274.37 L249.00,276.11 L250.00,277.86 L251.00,279.63 L252.00,281.42 L253.00,283.23 L254.00,285.06 L255.00,286.91 L256.00,288.78 L257.00,290.67 L258.00,292.58 L259.00,294.51 L260.00,296.46 L261.00,298.44 L262.00,300.44 L263.00,302.46 L264.00,304.50 L265.00,306.57 L266.00,308.67 L267.00,310.78 L268.00,312.92 L269.00,315.09 L270.00,317.28 L271.00,319.50 L272.00,321.75 L273.00,324.02 L274.00,326.31 L275.00,328.63 L276.00,330.97 L277.00,333.32 L278.00,335.69 L279.00,338.08 L280.00,340.48 L281.00,342.89 L282.00,345.31 L283.00,347.73 L284.00,350.16 L285.00,352.60 L286.00,355.03 L287.00,357.47 L288.00,359.90 L289.00,362.33 L290.00,364.75 L291.00,367.16 L292.00,369.56 L293.00,371.96 L294.00,374.34 L295.00,376.70 L296.00,379.04 L297.00,381.37 L298.00,383.67 L299.00,385.95 L300.00,388.21 L301.00,390.43 L302.00,392.62 L303.00,394.78 L304.00,396.90 L305.00,398.98 L306.00,401.01 L307.00,403.00 L308.00,404.93 L309.00,406.82 L310.00,408.65 L311.00,410.42 L312.00,412.13 L313.00,413.77 L314.00,415.35 L315.00,416.86 L316.00,418.29 L317.00,419.65 L318.00,420.93 L319.00,422.13 L320.00,423.24 L321.00,424.27 L322.00,425.22 L323.00,426.09 L324.00,426.88 L325.00,427.59 L326.00,428.23 L327.00,428.80 L328.00,429.30 L329.00,429.74 L330.00,430.12 L331.00,430.44 L332.00,430.70 L333.00,430.90 L334.00,431.06 L335.00,431.16 L336.00,431.22 L337.00,431.23 L338.00,431.20 L339.00,431.14 L340.00,431.04 L341.00,430.90 L342.00,430.73 L343.00,430.54 L344.00,430.32 L345.00,430.07 L346.00,429.81 L347.00,429.53 L348.00,429.23 L349.00,428.92 L350.00,428.60 L351.00,428.27 L352.00,427.93 L353.00,427.59 L354.00,427.24 L355.00,426.89 L356.00,426.53 L357.00,426.17 L358.00,425.80 L359.00,425.43 L360.00,425.05 L361.00,424.66 L362.00,424.28 L363.00,423.88 L364.00,423.49 L365.00,423.09 L366.00,422.69 L367.00,422.28 L368.00,421.87 L369.00,421.46 L370.00,421.05 L371.00,420.63 L372.00,420.22 L373.00,419.80 L374.00,419.37 L375.00,418.95 L376.00,418.53 L377.00,418.10 L378.00,417.67 L379.00,417.25 L380.00,416.82 L381.00,416.39 L382.00,415.96 L383.00,415.54 L384.00,415.11 L385.00,414.68 L386.00,414.26 L387.00,413.83 L388.00,413.41 L389.00,412.99 L390.00,412.57 L391.00,412.15 L392.00,411.74 L393.00,411.32 L394.00,410.91 L395.00,410.51 L396.00,410.10 L397.00,409.70 L398.00,409.30 L399.00,408.91 L400.00,408.52 L401.00,408.13 L402.00,407.75 L403.00,407.37 L404.00,407.00 L405.00,406.63 L406.00,406.26 L407.00,405.90 L408.00,405.54 L409.00,405.19 L410.00,404.84 L411.00,404.50 L412.00,404.16 L413.00,403.83 L414.00,403.50 L415.00,403.18 L416.00,402.86 L417.00,402.54 L418.00,402.23 L419.00,401.93 L420.00,401.63 L421.00,401.33 L422.00,401.04 L423.00,400.76 L424.00,400.48 L425.00,400.20 L426.00,399.93 L427.00,399.66 L428.00,399.40 L429.00,399.15 L430.00,398.90 L431.00,398.65 L432.00,398.42 L433.00,398.18 L434.00,397.95 L435.00,397.73 L436.00,397.51 L437.00,397.30 L438.00,397.09 L439.00,396.89 L440.00,396.69 L441.00,396.50 L442.00,396.32 L443.00,396.14 L444.00,395.96 L445.00,395.80 L446.00,395.63 L447.00,395.48 L448.00,395.33 L449.00,395.18 L450.00,395.04 L451.00,394.91 L452.00,394.78 L453.00,394.66 L454.00,394.55 L455.00,394.44 L456.00,394.34 L457.00,394.24 L458.00,394.15 L459.00,394.06 L460.00,393.98 L461.00,393.91 L462.00,393.85 L463.00,393.79 L464.00,393.73 L465.00,393.69 L466.00,393.65 L467.00,393.61 L468.00,393.59 L469.00,393.57 L470.00,393.55 L471.00,393.54 L472.00,393.54 L473.00,393.55 L474.00,393.56 L475.00,393.58 L476.00,393.61 L477.00,393.64 L478.00,393.68 L479.00,393.73 L480.00,393.78 L481.00,393.84 L482.00,393.91 L483.00,393.98 L484.00,394.06 L485.00,394.15 L486.00,394.25 L487.00,394.35 L488.00,394.46 L489.00,394.58 L490.00,394.70 L491.00,394.83 L492.00,394.97 L493.00,395.12 L494.00,395.27 L495.00,395.43 L496.00,395.60 L497.00,395.78 L498.00,395.96 L499.00,396.15 L500.00,396.35 L501.00,396.55 L502.00,396.77 L503.00,396.99 L504.00,397.22 L505.00,397.46 L506.00,397.70 L507.00,397.95 L508.00,398.21 L509.00,398.48 L510.00,398.75 L511.00,399.03 L512.00,399.32 L513.00,399.62 L514.00,399.92 L515.00,400.23 L516.00,400.55 L517.00,400.87 L518.00,401.20 L519.00,401.54 L520.00,401.89 L521.00,402.24 L522.00,402.60 L523.00,402.97 L524.00,403.34 L525.00,403.72 L526.00,404.11 L527.00,404.51 L528.00,404.91 L529.00,405.31 L530.00,405.73 L531.00,406.15 L532.00,406.58 L533.00,407.02 L534.00,407.46 L535.00,407.91 L536.00,408.36 L537.00,408.82 L538.00,409.29 L539.00,409.76 L540.00,410.25 L541.00,410.73 L542.00,411.23 L543.00,411.73 L544.00,412.23 L545.00,412.75 L546.00,413.27 L547.00,413.79 L548.00,414.32 L549.00,414.86 L550.00,415.41 L551.00,415.96 L552.00,416.51 L553.00,417.08 L554.00,417.64 L555.00,418.22 L556.00,418.80 L557.00,419.39 L558.00,419.98 L559.00,420.58 L560.00,421.18 L561.00,421.79 L562.00,422.41 L563.00,423.03 L564.00,423.65 L565.00,424.29 L566.00,424.93 L567.00,425.57 L568.00,426.22 L569.00,426.88 L570.00,427.54 L571.00,428.20 L572.00,428.88 L573.00,429.55 L574.00,430.24 L575.00,430.92 L576.00,431.62 L577.00,432.32 L578.00,433.02 L579.00,433.73 L580.00,434.44 L581.00,435.16 L582.00,435.88 L583.00,436.60 L584.00,437.33 L585.00,438.06 L586.00,438.80 L587.00,439.54 L588.00,440.29 L589.00,441.03 L590.00,441.78 L591.00,442.54 L592.00,443.30 L593.00,444.05 L594.00,444.82 L595.00,445.58 L596.00,446.35 L597.00,447.12 L598.00,447.89 L599.00,448.67 L600.00,449.44 L601.00,450.22 L602.00,451.00 L603.00,451.78 L604.00,452.57 L605.00,453.35 L606.00,454.14 L607.00,454.92 L608.00,455.71 L609.00,456.50 L610.00,457.29 L611.00,458.08 L612.00,458.87 L613.00,459.66 L614.00,460.45 L615.00,461.24 L616.00,462.03 L617.00,462.82 L618.00,463.62 L619.00,464.40 L620.00,465.19 L621.00,465.98 L622.00,466.77 L623.00,467.56 L624.00,468.34 L625.00,469.13 L626.00,469.91 L627.00,470.69 L628.00,471.47 L629.00,472.25 L630.00,473.03 L631.00,473.80 L632.00,474.57 L633.00,475.34 L634.00,476.11 L635.00,476.88 L636.00,477.64 L637.00,478.40 L638.00,479.17 L639.00,479.93 L640.00,480.68 L641.00,481.44 L642.00,482.19 L643.00,482.94 L644.00,483.70 L645.00,484.44 L646.00,485.19 L647.00,485.94 L648.00,486.68 L649.00,487.43 L650.00,488.17 L651.00,488.91 L652.00,489.65 L653.00,490.38 L654.00,491.12 L655.00,491.85 L656.00,492.59 L657.00,493.32 L658.00,494.05 L659.00,494.78 L660.00,495.51 L661.00,496.24 L662.00,496.96 L663.00,497.69 L664.00,498.41 L665.00,499.14 L666.00,499.86 L667.00,500.58 L668.00,501.30 L669.00,502.02 L670.00,502.74 L671.00,503.45 L672.00,504.17 L673.00,504.89 L674.00,505.60 L675.00,506.32 L676.00,507.03 L677.00,507.74 L678.00,508.46 L679.00,509.17 L680.00,509.88 L681.00,510.59 L682.00,511.30 L683.00,512.01 L684.00,512.72 L685.00,513.43 L686.00,514.13 L687.00,514.84 L688.00,515.55 L689.00,516.26 L690.00,516.96 L691.00,517.67 L692.00,518.37 L693.00,519.08 L694.00,519.79 L695.00,520.49 L696.00,521.20 L697.00,521.90 L698.00,522.61 L699.00,523.31 L700.00,524.02 L701.00,524.72 L702.00,525.42 L703.00,526.12 L704.00,526.83 L705.00,527.53 L706.00,528.24 L707.00,528.96 L708.00,529.68 L709.00,530.41 L710.00,531.15 L711.00,531.89 L712.00,532.64 L713.00,533.39 L714.00,534.15 L715.00,534.91 L716.00,535.67 L717.00,536.44 L718.00,537.20 L719.00,537.96 L720.00,538.71 L721.00,539.46 L722.00,540.21 L723.00,540.96 L724.00,541.71 L725.00,542.46 L726.00,543.21 L727.00,543.96 L728.00,544.70 L729.00,545.45 L730.00,546.20 L731.00,546.95 L732.00,547.70 L733.00,548.45 L734.00,549.20 L735.00,549.95 L736.00,550.70 L737.00,551.45 L738.00,552.20 L739.00,552.94 L740.00,553.69 L741.00,554.44 L742.00,555.19 L743.00,555.94 L744.00,556.69 L745.00,557.44 L746.00,558.19 L747.00,558.94 L748.00,559.69 L749.00,560.44 L750.00,561.18 L751.00,561.93 L752.00,562.68 L753.00,563.43 L754.00,564.18 L755.00,564.93 L756.00,565.68 L757.00,566.43 L758.00,567.18 L759.00,567.93 L760.00,568.68 L761.00,569.43 L762.00,570.17 L763.00,570.92 L764.00,571.67 L765.00,572.42 L766.00,573.17 L767.00,573.92 L768.00,574.67 L769.00,575.42 L770.00,576.17 L771.00,576.92 L772.00,577.67 L773.00,578.41 L774.00,579.16 L775.00,579.91 L776.00,580.66 L777.00,581.41 L778.00,582.16 L779.00,582.91 L780.00,583.66 L781.00,584.41 L782.00,585.16 L783.00,585.91 L784.00,586.65 L785.00,587.40 L786.00,588.15 L787.00,588.90 L788.00,589.65 L789.00,590.40 L790.00,591.15 L791.00,591.90 L792.00,592.65" stroke="#00f" stroke-width="2.4" stroke-dasharray="3.1 6.46" stroke-dashoffset="0"/>
</g>
<path d="M518.3,683.5 L518.3,46.5" stroke="#000" stroke-width="2.8" stroke-dasharray="15.9 15.97" fill="none"/>
<g stroke="#00f" fill="none">
<path d="M471.8,625.8 L642.3,625.8" stroke-width="1.9"/>
<path d="M517.7,625.8 L593,625.8" stroke-width="2.8"/>
<path d="M479,618.2 L471.5,625.8 L479,633.4" stroke-width="2.2"/>
<path d="M635,618.2 L642.6,625.8 L635,633.4" stroke-width="2.2"/>
</g>
<g stroke="#3c3c3c" stroke-width="1.25" fill="none">
<rect x="151.0" y="46.5" width="638.0" height="637.0"/>
<path d="M193.66,683.5 v-9.5 M193.66,46.5 v9.5 M218.62,683.5 v-9.5 M218.62,46.5 v9.5 M236.33,683.5 v-9.5 M236.33,46.5 v9.5 M250.06,683.5 v-9.5 M250.06,46.5 v9.5 M261.28,683.5 v-9.5 M261.28,46.5 v9.5 M270.77,683.5 v-9.5 M270.77,46.5 v9.5 M278.99,683.5 v-9.5 M278.99,46.5 v9.5 M286.24,683.5 v-9.5 M286.24,46.5 v9.5 M292.73,683.5 v-9.5 M292.73,46.5 v9.5 M335.39,683.5 v-9.5 M335.39,46.5 v9.5 M360.35,683.5 v-9.5 M360.35,46.5 v9.5 M378.05,683.5 v-9.5 M378.05,46.5 v9.5 M391.79,683.5 v-9.5 M391.79,46.5 v9.5 M403.01,683.5 v-9.5 M403.01,46.5 v9.5 M412.50,683.5 v-9.5 M412.50,46.5 v9.5 M420.72,683.5 v-9.5 M420.72,46.5 v9.5 M427.97,683.5 v-9.5 M427.97,46.5 v9.5 M434.45,683.5 v-9.5 M434.45,46.5 v9.5 M477.11,683.5 v-9.5 M477.11,46.5 v9.5 M502.07,683.5 v-9.5 M502.07,46.5 v9.5 M519.78,683.5 v-9.5 M519.78,46.5 v9.5 M533.51,683.5 v-9.5 M533.51,46.5 v9.5 M544.73,683.5 v-9.5 M544.73,46.5 v9.5 M554.22,683.5 v-9.5 M554.22,46.5 v9.5 M562.44,683.5 v-9.5 M562.44,46.5 v9.5 M569.69,683.5 v-9.5 M569.69,46.5 v9.5 M576.17,683.5 v-9.5 M576.17,46.5 v9.5 M618.84,683.5 v-9.5 M618.84,46.5 v9.5 M643.80,683.5 v-9.5 M643.80,46.5 v9.5 M661.50,683.5 v-9.5 M661.50,46.5 v9.5 M675.24,683.5 v-9.5 M675.24,46.5 v9.5 M686.46,683.5 v-9.5 M686.46,46.5 v9.5 M695.95,683.5 v-9.5 M695.95,46.5 v9.5 M704.17,683.5 v-9.5 M704.17,46.5 v9.5 M711.42,683.5 v-9.5 M711.42,46.5 v9.5 M717.90,683.5 v-9.5 M717.90,46.5 v9.5 M760.56,683.5 v-9.5 M760.56,46.5 v9.5 M785.52,683.5 v-9.5 M785.52,46.5 v9.5 M151.0,635.56 h9.5 M789.0,635.56 h-9.5 M151.0,607.52 h9.5 M789.0,607.52 h-9.5 M151.0,587.62 h9.5 M789.0,587.62 h-9.5 M151.0,572.19 h9.5 M789.0,572.19 h-9.5 M151.0,559.58 h9.5 M789.0,559.58 h-9.5 M151.0,548.92 h9.5 M789.0,548.92 h-9.5 M151.0,539.68 h9.5 M789.0,539.68 h-9.5 M151.0,531.54 h9.5 M789.0,531.54 h-9.5 M151.0,524.25 h9.5 M789.0,524.25 h-9.5 M151.0,476.31 h9.5 M789.0,476.31 h-9.5 M151.0,448.27 h9.5 M789.0,448.27 h-9.5 M151.0,428.37 h9.5 M789.0,428.37 h-9.5 M151.0,412.94 h9.5 M789.0,412.94 h-9.5 M151.0,400.33 h9.5 M789.0,400.33 h-9.5 M151.0,389.67 h9.5 M789.0,389.67 h-9.5 M151.0,380.43 h9.5 M789.0,380.43 h-9.5 M151.0,372.29 h9.5 M789.0,372.29 h-9.5 M151.0,365.00 h9.5 M789.0,365.00 h-9.5 M151.0,317.06 h9.5 M789.0,317.06 h-9.5 M151.0,289.02 h9.5 M789.0,289.02 h-9.5 M151.0,269.12 h9.5 M789.0,269.12 h-9.5 M151.0,253.69 h9.5 M789.0,253.69 h-9.5 M151.0,241.08 h9.5 M789.0,241.08 h-9.5 M151.0,230.42 h9.5 M789.0,230.42 h-9.5 M151.0,221.18 h9.5 M789.0,221.18 h-9.5 M151.0,213.04 h9.5 M789.0,213.04 h-9.5 M151.0,205.75 h9.5 M789.0,205.75 h-9.5 M151.0,157.81 h9.5 M789.0,157.81 h-9.5 M151.0,129.77 h9.5 M789.0,129.77 h-9.5 M151.0,109.87 h9.5 M789.0,109.87 h-9.5 M151.0,94.44 h9.5 M789.0,94.44 h-9.5 M151.0,81.83 h9.5 M789.0,81.83 h-9.5 M151.0,71.17 h9.5 M789.0,71.17 h-9.5 M151.0,61.93 h9.5 M789.0,61.93 h-9.5 M151.0,53.79 h9.5 M789.0,53.79 h-9.5"/>
</g>
<g font-family="'Liberation Serif', serif" fill="#000" style="opacity:0.999">
<text x="140.8" y="61.8" font-size="37.2" text-anchor="end">10<tspan font-size="26.3" dy="-13.3">−</tspan><tspan font-size="26.3" dy="-2.5">12</tspan></text>
<text x="140.8" y="221.1" font-size="37.2" text-anchor="end">10<tspan font-size="26.3" dy="-13.3">−</tspan><tspan font-size="26.3" dy="-2.5">13</tspan></text>
<text x="140.8" y="380.3" font-size="37.2" text-anchor="end">10<tspan font-size="26.3" dy="-13.3">−</tspan><tspan font-size="26.3" dy="-2.5">14</tspan></text>
<text x="140.8" y="539.5" font-size="37.2" text-anchor="end">10<tspan font-size="26.3" dy="-13.3">−</tspan><tspan font-size="26.3" dy="-2.5">15</tspan></text>
<text x="140.8" y="698.8" font-size="37.2" text-anchor="end">10<tspan font-size="26.3" dy="-13.3">−</tspan><tspan font-size="26.3" dy="-2.5">16</tspan></text>
<text x="150.0" y="732.8" font-size="37.2" text-anchor="middle">10<tspan font-size="26.3" dy="-13.3">−</tspan><tspan font-size="26.3" dy="-2.5">11</tspan></text>
<text x="291.7" y="732.8" font-size="37.2" text-anchor="middle">10<tspan font-size="26.3" dy="-13.3">−</tspan><tspan font-size="26.3" dy="-2.5">10</tspan></text>
<text x="433.4" y="732.8" font-size="37.2" text-anchor="middle">10<tspan font-size="26.3" dy="-13.3">−</tspan><tspan font-size="26.3" dy="-2.5">9</tspan></text>
<text x="575.2" y="732.8" font-size="37.2" text-anchor="middle">10<tspan font-size="26.3" dy="-13.3">−</tspan><tspan font-size="26.3" dy="-2.5">8</tspan></text>
<text x="716.9" y="732.8" font-size="37.2" text-anchor="middle">10<tspan font-size="26.3" dy="-13.3">−</tspan><tspan font-size="26.3" dy="-2.5">7</tspan></text>
<text x="309.8" y="792.7" font-size="40">Frequency</text>
<text x="527" y="792.5" font-size="40" font-style="italic">f</text>
<text x="560" y="792.5" font-size="40">[<tspan font-style="italic">Hz</tspan>]</text>
<text transform="translate(30.9,496) rotate(-90)" font-size="41.6">GW Strain</text>
<text transform="translate(30.9,269.5) rotate(-90)" font-size="41.6" font-style="italic">h<tspan font-size="28.5" dy="6.5">c</tspan></text>
<text transform="translate(563.5,331.5) rotate(-90)" font-size="44" font-style="italic">f</text>
<text transform="translate(563.5,294.5) rotate(-90)" font-size="44">=</text>
<text transform="translate(563.5,258) rotate(-90)" font-size="44">3.93</text>
<text transform="translate(563.5,169.5) rotate(-90)" font-size="44">nHz</text>
<path d="M525.3,302 L525.3,319" stroke="#000" stroke-width="1.6"/>
<text transform="translate(271.3,186.4) rotate(37.6)" font-size="44" fill="#a0b24b"><tspan font-style="italic">β</tspan><tspan font-size="29.5" dy="5" dx="-1">GW</tspan><tspan dy="-5" dx="3.5"> = −2/3</tspan></text>
<text x="557.9" y="664.7" font-size="31.5" fill="#00f" text-anchor="middle">NANOGrav</text>
</g>
</svg>
</body></html>
